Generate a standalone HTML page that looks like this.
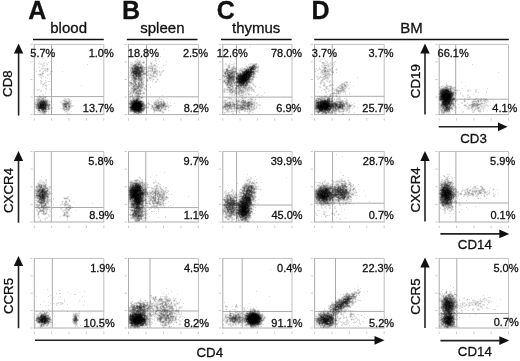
<!DOCTYPE html>
<html><head><meta charset="utf-8"><style>
html,body{margin:0;padding:0;background:#fff;}
svg{display:block;will-change:transform;font-family:"Liberation Sans",sans-serif;}
</style></head><body>
<svg width="520" height="361" viewBox="0 0 520 361">
<rect width="520" height="361" fill="#fff"/>
<g>
<g>
<line x1="33" y1="39.5" x2="103.8" y2="39.5" stroke="#111" stroke-width="1.6"/>
<line x1="126.8" y1="39.5" x2="197.5" y2="39.5" stroke="#111" stroke-width="1.6"/>
<line x1="221" y1="39.5" x2="291.7" y2="39.5" stroke="#111" stroke-width="1.6"/>
<line x1="314.2" y1="39.5" x2="508.8" y2="39.5" stroke="#111" stroke-width="1.6"/>
<line x1="34.3" y1="43.9" x2="34.3" y2="115.1" stroke="#acacac" stroke-width="1"/>
<line x1="33.8" y1="114.6" x2="104.3" y2="114.6" stroke="#acacac" stroke-width="1"/>
<line x1="34.3" y1="44.4" x2="103.8" y2="44.4" stroke="#c0c0c0" stroke-width="1"/>
<line x1="103.8" y1="44.4" x2="103.8" y2="114.6" stroke="#c0c0c0" stroke-width="1"/>
<line x1="51.5" y1="44.4" x2="51.5" y2="114.6" stroke="#aaaaaa" stroke-width="1"/>
<line x1="34.3" y1="96.6" x2="103.8" y2="96.6" stroke="#aaaaaa" stroke-width="1"/>
<line x1="30.299999999999997" y1="44.4" x2="32.8" y2="44.4" stroke="#c0c0c0" stroke-width="0.8"/>
<line x1="34.3" y1="118.1" x2="34.3" y2="120.6" stroke="#c0c0c0" stroke-width="0.8"/>
<line x1="30.299999999999997" y1="61.949999999999996" x2="32.8" y2="61.949999999999996" stroke="#c0c0c0" stroke-width="0.8"/>
<line x1="51.675" y1="118.1" x2="51.675" y2="120.6" stroke="#c0c0c0" stroke-width="0.8"/>
<line x1="30.299999999999997" y1="79.5" x2="32.8" y2="79.5" stroke="#c0c0c0" stroke-width="0.8"/>
<line x1="69.05" y1="118.1" x2="69.05" y2="120.6" stroke="#c0c0c0" stroke-width="0.8"/>
<line x1="30.299999999999997" y1="97.04999999999998" x2="32.8" y2="97.04999999999998" stroke="#c0c0c0" stroke-width="0.8"/>
<line x1="86.425" y1="118.1" x2="86.425" y2="120.6" stroke="#c0c0c0" stroke-width="0.8"/>
<line x1="30.299999999999997" y1="114.6" x2="32.8" y2="114.6" stroke="#c0c0c0" stroke-width="0.8"/>
<line x1="103.8" y1="118.1" x2="103.8" y2="120.6" stroke="#c0c0c0" stroke-width="0.8"/>
<line x1="128.5" y1="43.9" x2="128.5" y2="115.1" stroke="#acacac" stroke-width="1"/>
<line x1="128.0" y1="114.6" x2="198.9" y2="114.6" stroke="#acacac" stroke-width="1"/>
<line x1="128.5" y1="44.4" x2="198.4" y2="44.4" stroke="#c0c0c0" stroke-width="1"/>
<line x1="198.4" y1="44.4" x2="198.4" y2="114.6" stroke="#c0c0c0" stroke-width="1"/>
<line x1="146.5" y1="44.4" x2="146.5" y2="114.6" stroke="#aaaaaa" stroke-width="1"/>
<line x1="128.5" y1="96.8" x2="198.4" y2="96.8" stroke="#aaaaaa" stroke-width="1"/>
<line x1="124.5" y1="44.4" x2="127.0" y2="44.4" stroke="#c0c0c0" stroke-width="0.8"/>
<line x1="128.5" y1="118.1" x2="128.5" y2="120.6" stroke="#c0c0c0" stroke-width="0.8"/>
<line x1="124.5" y1="61.949999999999996" x2="127.0" y2="61.949999999999996" stroke="#c0c0c0" stroke-width="0.8"/>
<line x1="145.975" y1="118.1" x2="145.975" y2="120.6" stroke="#c0c0c0" stroke-width="0.8"/>
<line x1="124.5" y1="79.5" x2="127.0" y2="79.5" stroke="#c0c0c0" stroke-width="0.8"/>
<line x1="163.45" y1="118.1" x2="163.45" y2="120.6" stroke="#c0c0c0" stroke-width="0.8"/>
<line x1="124.5" y1="97.04999999999998" x2="127.0" y2="97.04999999999998" stroke="#c0c0c0" stroke-width="0.8"/>
<line x1="180.925" y1="118.1" x2="180.925" y2="120.6" stroke="#c0c0c0" stroke-width="0.8"/>
<line x1="124.5" y1="114.6" x2="127.0" y2="114.6" stroke="#c0c0c0" stroke-width="0.8"/>
<line x1="198.4" y1="118.1" x2="198.4" y2="120.6" stroke="#c0c0c0" stroke-width="0.8"/>
<line x1="222.8" y1="43.9" x2="222.8" y2="115.1" stroke="#acacac" stroke-width="1"/>
<line x1="222.3" y1="114.6" x2="292.5" y2="114.6" stroke="#acacac" stroke-width="1"/>
<line x1="222.8" y1="44.4" x2="292" y2="44.4" stroke="#c0c0c0" stroke-width="1"/>
<line x1="292" y1="44.4" x2="292" y2="114.6" stroke="#c0c0c0" stroke-width="1"/>
<line x1="236.5" y1="44.4" x2="236.5" y2="114.6" stroke="#aaaaaa" stroke-width="1"/>
<line x1="222.8" y1="97.1" x2="292" y2="97.1" stroke="#aaaaaa" stroke-width="1"/>
<line x1="218.8" y1="44.4" x2="221.3" y2="44.4" stroke="#c0c0c0" stroke-width="0.8"/>
<line x1="222.8" y1="118.1" x2="222.8" y2="120.6" stroke="#c0c0c0" stroke-width="0.8"/>
<line x1="218.8" y1="61.949999999999996" x2="221.3" y2="61.949999999999996" stroke="#c0c0c0" stroke-width="0.8"/>
<line x1="240.10000000000002" y1="118.1" x2="240.10000000000002" y2="120.6" stroke="#c0c0c0" stroke-width="0.8"/>
<line x1="218.8" y1="79.5" x2="221.3" y2="79.5" stroke="#c0c0c0" stroke-width="0.8"/>
<line x1="257.4" y1="118.1" x2="257.4" y2="120.6" stroke="#c0c0c0" stroke-width="0.8"/>
<line x1="218.8" y1="97.04999999999998" x2="221.3" y2="97.04999999999998" stroke="#c0c0c0" stroke-width="0.8"/>
<line x1="274.7" y1="118.1" x2="274.7" y2="120.6" stroke="#c0c0c0" stroke-width="0.8"/>
<line x1="218.8" y1="114.6" x2="221.3" y2="114.6" stroke="#c0c0c0" stroke-width="0.8"/>
<line x1="292.0" y1="118.1" x2="292.0" y2="120.6" stroke="#c0c0c0" stroke-width="0.8"/>
<line x1="314.6" y1="43.9" x2="314.6" y2="115.1" stroke="#acacac" stroke-width="1"/>
<line x1="314.1" y1="114.6" x2="384.7" y2="114.6" stroke="#acacac" stroke-width="1"/>
<line x1="314.6" y1="44.4" x2="384.2" y2="44.4" stroke="#c0c0c0" stroke-width="1"/>
<line x1="384.2" y1="44.4" x2="384.2" y2="114.6" stroke="#c0c0c0" stroke-width="1"/>
<line x1="332.2" y1="44.4" x2="332.2" y2="114.6" stroke="#aaaaaa" stroke-width="1"/>
<line x1="314.6" y1="96.3" x2="384.2" y2="96.3" stroke="#aaaaaa" stroke-width="1"/>
<line x1="310.6" y1="44.4" x2="313.1" y2="44.4" stroke="#c0c0c0" stroke-width="0.8"/>
<line x1="314.6" y1="118.1" x2="314.6" y2="120.6" stroke="#c0c0c0" stroke-width="0.8"/>
<line x1="310.6" y1="61.949999999999996" x2="313.1" y2="61.949999999999996" stroke="#c0c0c0" stroke-width="0.8"/>
<line x1="332.0" y1="118.1" x2="332.0" y2="120.6" stroke="#c0c0c0" stroke-width="0.8"/>
<line x1="310.6" y1="79.5" x2="313.1" y2="79.5" stroke="#c0c0c0" stroke-width="0.8"/>
<line x1="349.4" y1="118.1" x2="349.4" y2="120.6" stroke="#c0c0c0" stroke-width="0.8"/>
<line x1="310.6" y1="97.04999999999998" x2="313.1" y2="97.04999999999998" stroke="#c0c0c0" stroke-width="0.8"/>
<line x1="366.8" y1="118.1" x2="366.8" y2="120.6" stroke="#c0c0c0" stroke-width="0.8"/>
<line x1="310.6" y1="114.6" x2="313.1" y2="114.6" stroke="#c0c0c0" stroke-width="0.8"/>
<line x1="384.2" y1="118.1" x2="384.2" y2="120.6" stroke="#c0c0c0" stroke-width="0.8"/>
<line x1="439.2" y1="43.9" x2="439.2" y2="115.1" stroke="#acacac" stroke-width="1"/>
<line x1="438.7" y1="114.6" x2="509.0" y2="114.6" stroke="#acacac" stroke-width="1"/>
<line x1="439.2" y1="44.4" x2="508.5" y2="44.4" stroke="#c0c0c0" stroke-width="1"/>
<line x1="508.5" y1="44.4" x2="508.5" y2="114.6" stroke="#c0c0c0" stroke-width="1"/>
<line x1="455.7" y1="44.4" x2="455.7" y2="114.6" stroke="#aaaaaa" stroke-width="1"/>
<line x1="439.2" y1="99.2" x2="508.5" y2="99.2" stroke="#aaaaaa" stroke-width="1"/>
<line x1="435.2" y1="44.4" x2="437.7" y2="44.4" stroke="#c0c0c0" stroke-width="0.8"/>
<line x1="439.2" y1="118.1" x2="439.2" y2="120.6" stroke="#c0c0c0" stroke-width="0.8"/>
<line x1="435.2" y1="61.949999999999996" x2="437.7" y2="61.949999999999996" stroke="#c0c0c0" stroke-width="0.8"/>
<line x1="456.525" y1="118.1" x2="456.525" y2="120.6" stroke="#c0c0c0" stroke-width="0.8"/>
<line x1="435.2" y1="79.5" x2="437.7" y2="79.5" stroke="#c0c0c0" stroke-width="0.8"/>
<line x1="473.85" y1="118.1" x2="473.85" y2="120.6" stroke="#c0c0c0" stroke-width="0.8"/>
<line x1="435.2" y1="97.04999999999998" x2="437.7" y2="97.04999999999998" stroke="#c0c0c0" stroke-width="0.8"/>
<line x1="491.175" y1="118.1" x2="491.175" y2="120.6" stroke="#c0c0c0" stroke-width="0.8"/>
<line x1="435.2" y1="114.6" x2="437.7" y2="114.6" stroke="#c0c0c0" stroke-width="0.8"/>
<line x1="508.5" y1="118.1" x2="508.5" y2="120.6" stroke="#c0c0c0" stroke-width="0.8"/>
<line x1="34.3" y1="151.0" x2="34.3" y2="222.5" stroke="#acacac" stroke-width="1"/>
<line x1="33.8" y1="222.0" x2="104.3" y2="222.0" stroke="#acacac" stroke-width="1"/>
<line x1="34.3" y1="151.5" x2="103.8" y2="151.5" stroke="#c0c0c0" stroke-width="1"/>
<line x1="103.8" y1="151.5" x2="103.8" y2="222.0" stroke="#c0c0c0" stroke-width="1"/>
<line x1="51.3" y1="151.5" x2="51.3" y2="222.0" stroke="#aaaaaa" stroke-width="1"/>
<line x1="34.3" y1="207.5" x2="103.8" y2="207.5" stroke="#aaaaaa" stroke-width="1"/>
<line x1="30.299999999999997" y1="151.5" x2="32.8" y2="151.5" stroke="#c0c0c0" stroke-width="0.8"/>
<line x1="34.3" y1="225.5" x2="34.3" y2="228.0" stroke="#c0c0c0" stroke-width="0.8"/>
<line x1="30.299999999999997" y1="169.125" x2="32.8" y2="169.125" stroke="#c0c0c0" stroke-width="0.8"/>
<line x1="51.675" y1="225.5" x2="51.675" y2="228.0" stroke="#c0c0c0" stroke-width="0.8"/>
<line x1="30.299999999999997" y1="186.75" x2="32.8" y2="186.75" stroke="#c0c0c0" stroke-width="0.8"/>
<line x1="69.05" y1="225.5" x2="69.05" y2="228.0" stroke="#c0c0c0" stroke-width="0.8"/>
<line x1="30.299999999999997" y1="204.375" x2="32.8" y2="204.375" stroke="#c0c0c0" stroke-width="0.8"/>
<line x1="86.425" y1="225.5" x2="86.425" y2="228.0" stroke="#c0c0c0" stroke-width="0.8"/>
<line x1="30.299999999999997" y1="222.0" x2="32.8" y2="222.0" stroke="#c0c0c0" stroke-width="0.8"/>
<line x1="103.8" y1="225.5" x2="103.8" y2="228.0" stroke="#c0c0c0" stroke-width="0.8"/>
<line x1="128.5" y1="151.0" x2="128.5" y2="222.5" stroke="#acacac" stroke-width="1"/>
<line x1="128.0" y1="222.0" x2="198.9" y2="222.0" stroke="#acacac" stroke-width="1"/>
<line x1="128.5" y1="151.5" x2="198.4" y2="151.5" stroke="#c0c0c0" stroke-width="1"/>
<line x1="198.4" y1="151.5" x2="198.4" y2="222.0" stroke="#c0c0c0" stroke-width="1"/>
<line x1="145.8" y1="151.5" x2="145.8" y2="222.0" stroke="#aaaaaa" stroke-width="1"/>
<line x1="128.5" y1="207.6" x2="198.4" y2="207.6" stroke="#aaaaaa" stroke-width="1"/>
<line x1="124.5" y1="151.5" x2="127.0" y2="151.5" stroke="#c0c0c0" stroke-width="0.8"/>
<line x1="128.5" y1="225.5" x2="128.5" y2="228.0" stroke="#c0c0c0" stroke-width="0.8"/>
<line x1="124.5" y1="169.125" x2="127.0" y2="169.125" stroke="#c0c0c0" stroke-width="0.8"/>
<line x1="145.975" y1="225.5" x2="145.975" y2="228.0" stroke="#c0c0c0" stroke-width="0.8"/>
<line x1="124.5" y1="186.75" x2="127.0" y2="186.75" stroke="#c0c0c0" stroke-width="0.8"/>
<line x1="163.45" y1="225.5" x2="163.45" y2="228.0" stroke="#c0c0c0" stroke-width="0.8"/>
<line x1="124.5" y1="204.375" x2="127.0" y2="204.375" stroke="#c0c0c0" stroke-width="0.8"/>
<line x1="180.925" y1="225.5" x2="180.925" y2="228.0" stroke="#c0c0c0" stroke-width="0.8"/>
<line x1="124.5" y1="222.0" x2="127.0" y2="222.0" stroke="#c0c0c0" stroke-width="0.8"/>
<line x1="198.4" y1="225.5" x2="198.4" y2="228.0" stroke="#c0c0c0" stroke-width="0.8"/>
<line x1="222.8" y1="151.0" x2="222.8" y2="222.5" stroke="#acacac" stroke-width="1"/>
<line x1="222.3" y1="222.0" x2="292.5" y2="222.0" stroke="#acacac" stroke-width="1"/>
<line x1="222.8" y1="151.5" x2="292" y2="151.5" stroke="#c0c0c0" stroke-width="1"/>
<line x1="292" y1="151.5" x2="292" y2="222.0" stroke="#c0c0c0" stroke-width="1"/>
<line x1="236.6" y1="151.5" x2="236.6" y2="222.0" stroke="#aaaaaa" stroke-width="1"/>
<line x1="222.8" y1="205.0" x2="292" y2="205.0" stroke="#aaaaaa" stroke-width="1"/>
<line x1="218.8" y1="151.5" x2="221.3" y2="151.5" stroke="#c0c0c0" stroke-width="0.8"/>
<line x1="222.8" y1="225.5" x2="222.8" y2="228.0" stroke="#c0c0c0" stroke-width="0.8"/>
<line x1="218.8" y1="169.125" x2="221.3" y2="169.125" stroke="#c0c0c0" stroke-width="0.8"/>
<line x1="240.10000000000002" y1="225.5" x2="240.10000000000002" y2="228.0" stroke="#c0c0c0" stroke-width="0.8"/>
<line x1="218.8" y1="186.75" x2="221.3" y2="186.75" stroke="#c0c0c0" stroke-width="0.8"/>
<line x1="257.4" y1="225.5" x2="257.4" y2="228.0" stroke="#c0c0c0" stroke-width="0.8"/>
<line x1="218.8" y1="204.375" x2="221.3" y2="204.375" stroke="#c0c0c0" stroke-width="0.8"/>
<line x1="274.7" y1="225.5" x2="274.7" y2="228.0" stroke="#c0c0c0" stroke-width="0.8"/>
<line x1="218.8" y1="222.0" x2="221.3" y2="222.0" stroke="#c0c0c0" stroke-width="0.8"/>
<line x1="292.0" y1="225.5" x2="292.0" y2="228.0" stroke="#c0c0c0" stroke-width="0.8"/>
<line x1="314.6" y1="151.0" x2="314.6" y2="222.5" stroke="#acacac" stroke-width="1"/>
<line x1="314.1" y1="222.0" x2="384.7" y2="222.0" stroke="#acacac" stroke-width="1"/>
<line x1="314.6" y1="151.5" x2="384.2" y2="151.5" stroke="#c0c0c0" stroke-width="1"/>
<line x1="384.2" y1="151.5" x2="384.2" y2="222.0" stroke="#c0c0c0" stroke-width="1"/>
<line x1="332.6" y1="151.5" x2="332.6" y2="222.0" stroke="#aaaaaa" stroke-width="1"/>
<line x1="314.6" y1="203.2" x2="384.2" y2="203.2" stroke="#aaaaaa" stroke-width="1"/>
<line x1="310.6" y1="151.5" x2="313.1" y2="151.5" stroke="#c0c0c0" stroke-width="0.8"/>
<line x1="314.6" y1="225.5" x2="314.6" y2="228.0" stroke="#c0c0c0" stroke-width="0.8"/>
<line x1="310.6" y1="169.125" x2="313.1" y2="169.125" stroke="#c0c0c0" stroke-width="0.8"/>
<line x1="332.0" y1="225.5" x2="332.0" y2="228.0" stroke="#c0c0c0" stroke-width="0.8"/>
<line x1="310.6" y1="186.75" x2="313.1" y2="186.75" stroke="#c0c0c0" stroke-width="0.8"/>
<line x1="349.4" y1="225.5" x2="349.4" y2="228.0" stroke="#c0c0c0" stroke-width="0.8"/>
<line x1="310.6" y1="204.375" x2="313.1" y2="204.375" stroke="#c0c0c0" stroke-width="0.8"/>
<line x1="366.8" y1="225.5" x2="366.8" y2="228.0" stroke="#c0c0c0" stroke-width="0.8"/>
<line x1="310.6" y1="222.0" x2="313.1" y2="222.0" stroke="#c0c0c0" stroke-width="0.8"/>
<line x1="384.2" y1="225.5" x2="384.2" y2="228.0" stroke="#c0c0c0" stroke-width="0.8"/>
<line x1="439.2" y1="151.0" x2="439.2" y2="222.5" stroke="#acacac" stroke-width="1"/>
<line x1="438.7" y1="222.0" x2="509.0" y2="222.0" stroke="#acacac" stroke-width="1"/>
<line x1="439.2" y1="151.5" x2="508.5" y2="151.5" stroke="#c0c0c0" stroke-width="1"/>
<line x1="508.5" y1="151.5" x2="508.5" y2="222.0" stroke="#c0c0c0" stroke-width="1"/>
<line x1="455.9" y1="151.5" x2="455.9" y2="222.0" stroke="#aaaaaa" stroke-width="1"/>
<line x1="439.2" y1="203.0" x2="508.5" y2="203.0" stroke="#aaaaaa" stroke-width="1"/>
<line x1="435.2" y1="151.5" x2="437.7" y2="151.5" stroke="#c0c0c0" stroke-width="0.8"/>
<line x1="439.2" y1="225.5" x2="439.2" y2="228.0" stroke="#c0c0c0" stroke-width="0.8"/>
<line x1="435.2" y1="169.125" x2="437.7" y2="169.125" stroke="#c0c0c0" stroke-width="0.8"/>
<line x1="456.525" y1="225.5" x2="456.525" y2="228.0" stroke="#c0c0c0" stroke-width="0.8"/>
<line x1="435.2" y1="186.75" x2="437.7" y2="186.75" stroke="#c0c0c0" stroke-width="0.8"/>
<line x1="473.85" y1="225.5" x2="473.85" y2="228.0" stroke="#c0c0c0" stroke-width="0.8"/>
<line x1="435.2" y1="204.375" x2="437.7" y2="204.375" stroke="#c0c0c0" stroke-width="0.8"/>
<line x1="491.175" y1="225.5" x2="491.175" y2="228.0" stroke="#c0c0c0" stroke-width="0.8"/>
<line x1="435.2" y1="222.0" x2="437.7" y2="222.0" stroke="#c0c0c0" stroke-width="0.8"/>
<line x1="508.5" y1="225.5" x2="508.5" y2="228.0" stroke="#c0c0c0" stroke-width="0.8"/>
<line x1="34.3" y1="257.9" x2="34.3" y2="328.5" stroke="#acacac" stroke-width="1"/>
<line x1="33.8" y1="328.0" x2="104.3" y2="328.0" stroke="#acacac" stroke-width="1"/>
<line x1="34.3" y1="258.4" x2="103.8" y2="258.4" stroke="#c0c0c0" stroke-width="1"/>
<line x1="103.8" y1="258.4" x2="103.8" y2="328.0" stroke="#c0c0c0" stroke-width="1"/>
<line x1="52.3" y1="258.4" x2="52.3" y2="328.0" stroke="#aaaaaa" stroke-width="1"/>
<line x1="34.3" y1="311.1" x2="103.8" y2="311.1" stroke="#aaaaaa" stroke-width="1"/>
<line x1="30.299999999999997" y1="258.4" x2="32.8" y2="258.4" stroke="#c0c0c0" stroke-width="0.8"/>
<line x1="34.3" y1="331.5" x2="34.3" y2="334.0" stroke="#c0c0c0" stroke-width="0.8"/>
<line x1="30.299999999999997" y1="275.79999999999995" x2="32.8" y2="275.79999999999995" stroke="#c0c0c0" stroke-width="0.8"/>
<line x1="51.675" y1="331.5" x2="51.675" y2="334.0" stroke="#c0c0c0" stroke-width="0.8"/>
<line x1="30.299999999999997" y1="293.2" x2="32.8" y2="293.2" stroke="#c0c0c0" stroke-width="0.8"/>
<line x1="69.05" y1="331.5" x2="69.05" y2="334.0" stroke="#c0c0c0" stroke-width="0.8"/>
<line x1="30.299999999999997" y1="310.6" x2="32.8" y2="310.6" stroke="#c0c0c0" stroke-width="0.8"/>
<line x1="86.425" y1="331.5" x2="86.425" y2="334.0" stroke="#c0c0c0" stroke-width="0.8"/>
<line x1="30.299999999999997" y1="328.0" x2="32.8" y2="328.0" stroke="#c0c0c0" stroke-width="0.8"/>
<line x1="103.8" y1="331.5" x2="103.8" y2="334.0" stroke="#c0c0c0" stroke-width="0.8"/>
<line x1="128.5" y1="257.9" x2="128.5" y2="328.5" stroke="#acacac" stroke-width="1"/>
<line x1="128.0" y1="328.0" x2="198.9" y2="328.0" stroke="#acacac" stroke-width="1"/>
<line x1="128.5" y1="258.4" x2="198.4" y2="258.4" stroke="#c0c0c0" stroke-width="1"/>
<line x1="198.4" y1="258.4" x2="198.4" y2="328.0" stroke="#c0c0c0" stroke-width="1"/>
<line x1="150.0" y1="258.4" x2="150.0" y2="328.0" stroke="#aaaaaa" stroke-width="1"/>
<line x1="128.5" y1="311.0" x2="198.4" y2="311.0" stroke="#aaaaaa" stroke-width="1"/>
<line x1="124.5" y1="258.4" x2="127.0" y2="258.4" stroke="#c0c0c0" stroke-width="0.8"/>
<line x1="128.5" y1="331.5" x2="128.5" y2="334.0" stroke="#c0c0c0" stroke-width="0.8"/>
<line x1="124.5" y1="275.79999999999995" x2="127.0" y2="275.79999999999995" stroke="#c0c0c0" stroke-width="0.8"/>
<line x1="145.975" y1="331.5" x2="145.975" y2="334.0" stroke="#c0c0c0" stroke-width="0.8"/>
<line x1="124.5" y1="293.2" x2="127.0" y2="293.2" stroke="#c0c0c0" stroke-width="0.8"/>
<line x1="163.45" y1="331.5" x2="163.45" y2="334.0" stroke="#c0c0c0" stroke-width="0.8"/>
<line x1="124.5" y1="310.6" x2="127.0" y2="310.6" stroke="#c0c0c0" stroke-width="0.8"/>
<line x1="180.925" y1="331.5" x2="180.925" y2="334.0" stroke="#c0c0c0" stroke-width="0.8"/>
<line x1="124.5" y1="328.0" x2="127.0" y2="328.0" stroke="#c0c0c0" stroke-width="0.8"/>
<line x1="198.4" y1="331.5" x2="198.4" y2="334.0" stroke="#c0c0c0" stroke-width="0.8"/>
<line x1="222.8" y1="257.9" x2="222.8" y2="328.5" stroke="#acacac" stroke-width="1"/>
<line x1="222.3" y1="328.0" x2="292.5" y2="328.0" stroke="#acacac" stroke-width="1"/>
<line x1="222.8" y1="258.4" x2="292" y2="258.4" stroke="#c0c0c0" stroke-width="1"/>
<line x1="292" y1="258.4" x2="292" y2="328.0" stroke="#c0c0c0" stroke-width="1"/>
<line x1="242.2" y1="258.4" x2="242.2" y2="328.0" stroke="#aaaaaa" stroke-width="1"/>
<line x1="222.8" y1="311.5" x2="292" y2="311.5" stroke="#aaaaaa" stroke-width="1"/>
<line x1="218.8" y1="258.4" x2="221.3" y2="258.4" stroke="#c0c0c0" stroke-width="0.8"/>
<line x1="222.8" y1="331.5" x2="222.8" y2="334.0" stroke="#c0c0c0" stroke-width="0.8"/>
<line x1="218.8" y1="275.79999999999995" x2="221.3" y2="275.79999999999995" stroke="#c0c0c0" stroke-width="0.8"/>
<line x1="240.10000000000002" y1="331.5" x2="240.10000000000002" y2="334.0" stroke="#c0c0c0" stroke-width="0.8"/>
<line x1="218.8" y1="293.2" x2="221.3" y2="293.2" stroke="#c0c0c0" stroke-width="0.8"/>
<line x1="257.4" y1="331.5" x2="257.4" y2="334.0" stroke="#c0c0c0" stroke-width="0.8"/>
<line x1="218.8" y1="310.6" x2="221.3" y2="310.6" stroke="#c0c0c0" stroke-width="0.8"/>
<line x1="274.7" y1="331.5" x2="274.7" y2="334.0" stroke="#c0c0c0" stroke-width="0.8"/>
<line x1="218.8" y1="328.0" x2="221.3" y2="328.0" stroke="#c0c0c0" stroke-width="0.8"/>
<line x1="292.0" y1="331.5" x2="292.0" y2="334.0" stroke="#c0c0c0" stroke-width="0.8"/>
<line x1="314.6" y1="257.9" x2="314.6" y2="328.5" stroke="#acacac" stroke-width="1"/>
<line x1="314.1" y1="328.0" x2="384.7" y2="328.0" stroke="#acacac" stroke-width="1"/>
<line x1="314.6" y1="258.4" x2="384.2" y2="258.4" stroke="#c0c0c0" stroke-width="1"/>
<line x1="384.2" y1="258.4" x2="384.2" y2="328.0" stroke="#c0c0c0" stroke-width="1"/>
<line x1="335.5" y1="258.4" x2="335.5" y2="328.0" stroke="#aaaaaa" stroke-width="1"/>
<line x1="314.6" y1="311.4" x2="384.2" y2="311.4" stroke="#aaaaaa" stroke-width="1"/>
<line x1="310.6" y1="258.4" x2="313.1" y2="258.4" stroke="#c0c0c0" stroke-width="0.8"/>
<line x1="314.6" y1="331.5" x2="314.6" y2="334.0" stroke="#c0c0c0" stroke-width="0.8"/>
<line x1="310.6" y1="275.79999999999995" x2="313.1" y2="275.79999999999995" stroke="#c0c0c0" stroke-width="0.8"/>
<line x1="332.0" y1="331.5" x2="332.0" y2="334.0" stroke="#c0c0c0" stroke-width="0.8"/>
<line x1="310.6" y1="293.2" x2="313.1" y2="293.2" stroke="#c0c0c0" stroke-width="0.8"/>
<line x1="349.4" y1="331.5" x2="349.4" y2="334.0" stroke="#c0c0c0" stroke-width="0.8"/>
<line x1="310.6" y1="310.6" x2="313.1" y2="310.6" stroke="#c0c0c0" stroke-width="0.8"/>
<line x1="366.8" y1="331.5" x2="366.8" y2="334.0" stroke="#c0c0c0" stroke-width="0.8"/>
<line x1="310.6" y1="328.0" x2="313.1" y2="328.0" stroke="#c0c0c0" stroke-width="0.8"/>
<line x1="384.2" y1="331.5" x2="384.2" y2="334.0" stroke="#c0c0c0" stroke-width="0.8"/>
<line x1="439.2" y1="257.9" x2="439.2" y2="328.5" stroke="#acacac" stroke-width="1"/>
<line x1="438.7" y1="328.0" x2="509.0" y2="328.0" stroke="#acacac" stroke-width="1"/>
<line x1="439.2" y1="258.4" x2="508.5" y2="258.4" stroke="#c0c0c0" stroke-width="1"/>
<line x1="508.5" y1="258.4" x2="508.5" y2="328.0" stroke="#c0c0c0" stroke-width="1"/>
<line x1="456.8" y1="258.4" x2="456.8" y2="328.0" stroke="#aaaaaa" stroke-width="1"/>
<line x1="439.2" y1="313.5" x2="508.5" y2="313.5" stroke="#aaaaaa" stroke-width="1"/>
<line x1="435.2" y1="258.4" x2="437.7" y2="258.4" stroke="#c0c0c0" stroke-width="0.8"/>
<line x1="439.2" y1="331.5" x2="439.2" y2="334.0" stroke="#c0c0c0" stroke-width="0.8"/>
<line x1="435.2" y1="275.79999999999995" x2="437.7" y2="275.79999999999995" stroke="#c0c0c0" stroke-width="0.8"/>
<line x1="456.525" y1="331.5" x2="456.525" y2="334.0" stroke="#c0c0c0" stroke-width="0.8"/>
<line x1="435.2" y1="293.2" x2="437.7" y2="293.2" stroke="#c0c0c0" stroke-width="0.8"/>
<line x1="473.85" y1="331.5" x2="473.85" y2="334.0" stroke="#c0c0c0" stroke-width="0.8"/>
<line x1="435.2" y1="310.6" x2="437.7" y2="310.6" stroke="#c0c0c0" stroke-width="0.8"/>
<line x1="491.175" y1="331.5" x2="491.175" y2="334.0" stroke="#c0c0c0" stroke-width="0.8"/>
<line x1="435.2" y1="328.0" x2="437.7" y2="328.0" stroke="#c0c0c0" stroke-width="0.8"/>
<line x1="508.5" y1="331.5" x2="508.5" y2="334.0" stroke="#c0c0c0" stroke-width="0.8"/>
</g>
<g>
<defs><marker id="k1" markerWidth="1" markerHeight="1" refX="0" refY="0" markerUnits="userSpaceOnUse" overflow="visible"><rect width="1" height="1" fill-opacity="0.071"/></marker><marker id="k2" markerWidth="1" markerHeight="1" refX="0" refY="0" markerUnits="userSpaceOnUse" overflow="visible"><rect width="1" height="1" fill-opacity="0.143"/></marker><marker id="k3" markerWidth="1" markerHeight="1" refX="0" refY="0" markerUnits="userSpaceOnUse" overflow="visible"><rect width="1" height="1" fill-opacity="0.214"/></marker><marker id="k4" markerWidth="1" markerHeight="1" refX="0" refY="0" markerUnits="userSpaceOnUse" overflow="visible"><rect width="1" height="1" fill-opacity="0.286"/></marker><marker id="k5" markerWidth="1" markerHeight="1" refX="0" refY="0" markerUnits="userSpaceOnUse" overflow="visible"><rect width="1" height="1" fill-opacity="0.357"/></marker><marker id="k6" markerWidth="1" markerHeight="1" refX="0" refY="0" markerUnits="userSpaceOnUse" overflow="visible"><rect width="1" height="1" fill-opacity="0.429"/></marker><marker id="k7" markerWidth="1" markerHeight="1" refX="0" refY="0" markerUnits="userSpaceOnUse" overflow="visible"><rect width="1" height="1" fill-opacity="0.500"/></marker><marker id="k8" markerWidth="1" markerHeight="1" refX="0" refY="0" markerUnits="userSpaceOnUse" overflow="visible"><rect width="1" height="1" fill-opacity="0.571"/></marker><marker id="k9" markerWidth="1" markerHeight="1" refX="0" refY="0" markerUnits="userSpaceOnUse" overflow="visible"><rect width="1" height="1" fill-opacity="0.643"/></marker><marker id="k10" markerWidth="1" markerHeight="1" refX="0" refY="0" markerUnits="userSpaceOnUse" overflow="visible"><rect width="1" height="1" fill-opacity="0.714"/></marker><marker id="k11" markerWidth="1" markerHeight="1" refX="0" refY="0" markerUnits="userSpaceOnUse" overflow="visible"><rect width="1" height="1" fill-opacity="0.786"/></marker><marker id="k12" markerWidth="1" markerHeight="1" refX="0" refY="0" markerUnits="userSpaceOnUse" overflow="visible"><rect width="1" height="1" fill-opacity="0.857"/></marker><marker id="k13" markerWidth="1" markerHeight="1" refX="0" refY="0" markerUnits="userSpaceOnUse" overflow="visible"><rect width="1" height="1" fill-opacity="0.929"/></marker><marker id="k14" markerWidth="1" markerHeight="1" refX="0" refY="0" markerUnits="userSpaceOnUse" overflow="visible"><rect width="1" height="1" fill-opacity="1.000"/></marker></defs><g fill="none" stroke="none"><polyline points="136,59 155,59 321,59 136,60 138,60 139,60 156,60 319,60 320,60 326,60 134,61 141,61 142,61 144,61 155,61 325,61 327,61 334,61 39,62 43,62 132,62 134,62 141,62 150,62 152,62 156,62 321,62 324,62 326,62 335,62 39,63 41,63 44,63 47,63 130,63 131,63 134,63 141,63 142,63 144,63 152,63 226,63 233,63 249,63 251,63 253,63 257,63 325,63 327,63 328,63 329,63 331,63 333,63 334,63 40,64 42,64 43,64 44,64 46,64 142,64 150,64 152,64 153,64 155,64 225,64 228,64 229,64 230,64 232,64 234,64 249,64 251,64 257,64 322,64 325,64 326,64 329,64 330,64 331,64 333,64 42,65 130,65 143,65 148,65 150,65 156,65 227,65 230,65 233,65 234,65 246,65 248,65 249,65 257,65 322,65 323,65 329,65 333,65 43,66 129,66 144,66 145,66 146,66 147,66 156,66 227,66 230,66 232,66 235,66 245,66 259,66 321,66 323,66 326,66 330,66 41,67 42,67 43,67 47,67 147,67 153,67 154,67 155,67 157,67 227,67 231,67 236,67 241,67 243,67 244,67 245,67 327,67 328,67 329,67 332,67 333,67 44,68 46,68 48,68 129,68 146,68 147,68 156,68 225,68 230,68 239,68 241,68 258,68 318,68 320,68 322,68 327,68 328,68 330,68 331,68 333,68 336,68 40,69 41,69 42,69 43,69 44,69 129,69 147,69 148,69 149,69 150,69 157,69 223,69 236,69 237,69 239,69 256,69 257,69 258,69 318,69 321,69 322,69 331,69 332,69 335,69 337,69 43,70 48,70 129,70 145,70 146,70 147,70 158,70 159,70 162,70 224,70 238,70 320,70 331,70 333,70 336,70 40,71 42,71 44,71 46,71 51,71 129,71 158,71 160,71 161,71 163,71 238,71 258,71 320,71 330,71 41,72 43,72 50,72 148,72 150,72 151,72 152,72 157,72 158,72 160,72 162,72 223,72 256,72 257,72 331,72 39,73 40,73 41,73 147,73 149,73 150,73 159,73 160,73 161,73 223,73 320,73 330,73 332,73 333,73 43,74 48,74 49,74 129,74 154,74 155,74 159,74 161,74 223,74 321,74 331,74 38,75 39,75 41,75 43,75 47,75 144,75 145,75 149,75 154,75 155,75 156,75 159,75 161,75 222,75 255,75 320,75 322,75 323,75 330,75 40,76 41,76 42,76 129,76 130,76 144,76 147,76 148,76 149,76 150,76 156,76 255,76 318,76 319,76 321,76 322,76 40,77 42,77 130,77 145,77 148,77 153,77 154,77 223,77 255,77 316,77 318,77 329,77 130,78 144,78 148,78 152,78 153,78 156,78 157,78 224,78 317,78 320,78 321,78 322,78 146,79 148,79 149,79 150,79 151,79 152,79 154,79 156,79 158,79 318,79 321,79 325,79 326,79 328,79 41,80 130,80 146,80 148,80 152,80 153,80 156,80 157,80 253,80 320,80 323,80 327,80 329,80 40,81 42,81 45,81 46,81 132,81 144,81 146,81 148,81 320,81 323,81 326,81 328,81 330,81 344,81 346,81 347,81 41,82 44,82 128,82 156,82 252,82 253,82 322,82 323,82 328,82 330,82 343,82 40,83 42,83 43,83 45,83 144,83 224,83 251,83 319,83 321,83 323,83 325,83 341,83 345,83 347,83 446,83 42,84 44,84 45,84 46,84 129,84 144,84 249,84 250,84 252,84 254,84 323,84 325,84 329,84 331,84 333,84 340,84 348,84 445,84 447,84 42,85 43,85 44,85 144,85 146,85 225,85 250,85 255,85 325,85 328,85 331,85 332,85 347,85 441,85 445,85 448,85 449,85 450,85 451,85 45,86 46,86 130,86 131,86 145,86 226,86 234,86 251,86 254,86 256,86 320,86 324,86 325,86 328,86 329,86 330,86 337,86 338,86 339,86 347,86 440,86 442,86 443,86 452,86 454,86 130,87 144,87 226,87 234,87 252,87 255,87 319,87 327,87 336,87 347,87 440,87 441,87 46,88 130,88 143,88 145,88 226,88 324,88 325,88 328,88 334,88 335,88 337,88 338,88 346,88 439,88 455,88 38,89 45,89 142,89 143,89 146,89 223,89 225,89 250,89 323,89 325,89 326,89 327,89 329,89 332,89 334,89 338,89 339,89 345,89 439,89 455,89 456,89 457,89 467,89 475,89 38,90 40,90 129,90 130,90 145,90 223,90 225,90 226,90 236,90 250,90 324,90 328,90 333,90 345,90 458,90 468,90 469,90 476,90 128,91 142,91 143,91 223,91 225,91 226,91 227,91 228,91 246,91 249,91 251,91 252,91 254,91 325,91 326,91 329,91 333,91 334,91 335,91 345,91 455,91 456,91 457,91 475,91 129,92 141,92 142,92 223,92 225,92 228,92 246,92 248,92 332,92 335,92 341,92 342,92 344,92 456,92 476,92 229,93 230,93 244,93 245,93 246,93 247,93 249,93 326,93 330,93 345,93 349,93 438,93 460,93 43,94 128,94 131,94 133,94 142,94 143,94 144,94 230,94 232,94 233,94 236,94 240,94 241,94 244,94 247,94 250,94 257,94 329,94 331,94 332,94 334,94 335,94 337,94 338,94 340,94 438,94 455,94 456,94 467,94 40,95 42,95 129,95 133,95 140,95 141,95 231,95 233,95 235,95 237,95 238,95 244,95 245,95 246,95 248,95 249,95 258,95 324,95 325,95 326,95 329,95 331,95 332,95 335,95 337,95 463,95 468,95 38,96 42,96 43,96 44,96 46,96 129,96 133,96 134,96 141,96 142,96 240,96 241,96 242,96 243,96 320,96 322,96 323,96 327,96 328,96 331,96 333,96 337,96 339,96 438,96 455,96 462,96 467,96 469,96 46,97 131,97 143,97 228,97 229,97 230,97 243,97 244,97 250,97 252,97 316,97 333,97 336,97 337,97 438,97 455,97 468,97 470,97 36,98 65,98 66,98 69,98 129,98 131,98 142,98 158,98 160,98 161,98 227,98 235,98 241,98 245,98 249,98 253,98 255,98 315,98 333,98 334,98 336,98 345,98 438,98 455,98 468,98 469,98 474,98 477,98 480,98 483,98 485,98 486,98 48,99 63,99 66,99 67,99 70,99 141,99 156,99 158,99 159,99 160,99 162,99 224,99 225,99 226,99 228,99 229,99 230,99 232,99 233,99 234,99 236,99 237,99 238,99 239,99 241,99 244,99 245,99 247,99 249,99 253,99 254,99 256,99 333,99 335,99 341,99 345,99 346,99 347,99 438,99 464,99 465,99 473,99 476,99 477,99 478,99 479,99 481,99 482,99 487,99 35,100 49,100 67,100 70,100 143,100 154,100 159,100 160,100 161,100 162,100 164,100 223,100 227,100 230,100 231,100 234,100 235,100 240,100 246,100 253,100 254,100 255,100 314,100 334,100 335,100 337,100 343,100 344,100 463,100 472,100 475,100 476,100 488,100 50,101 61,101 62,101 63,101 71,101 144,101 148,101 164,101 223,101 226,101 227,101 228,101 231,101 234,101 253,101 255,101 314,101 344,101 347,101 439,101 456,101 463,101 465,101 471,101 481,101 482,101 486,101 487,101 34,102 50,102 62,102 71,102 128,102 144,102 147,102 149,102 153,102 165,102 167,102 235,102 255,102 257,102 314,102 348,102 440,102 454,102 455,102 462,102 464,102 471,102 479,102 480,102 482,102 483,102 484,102 485,102 487,102 34,103 61,103 128,103 146,103 149,103 166,103 223,103 239,103 255,103 314,103 348,103 350,103 461,103 471,103 483,103 485,103 486,103 34,104 61,104 71,104 128,104 147,104 150,104 152,104 153,104 166,104 167,104 168,104 255,104 256,104 257,104 258,104 260,104 314,104 351,104 439,104 464,104 466,104 468,104 482,104 483,104 484,104 485,104 487,104 72,105 148,105 149,105 169,105 223,105 255,105 256,105 258,105 314,105 352,105 353,105 354,105 439,105 455,105 463,105 466,105 468,105 481,105 482,105 484,105 486,105 488,105 34,106 50,106 62,106 128,106 147,106 169,106 222,106 255,106 257,106 314,106 351,106 355,106 455,106 464,106 465,106 468,106 469,106 470,106 480,106 485,106 487,106 50,107 52,107 62,107 71,107 128,107 166,107 167,107 169,107 222,107 255,107 257,107 314,107 350,107 353,107 354,107 439,107 453,107 456,107 467,107 469,107 470,107 474,107 480,107 482,107 484,107 35,108 50,108 61,108 70,108 146,108 147,108 150,108 166,108 168,108 222,108 256,108 314,108 350,108 439,108 453,108 455,108 467,108 470,108 473,108 474,108 480,108 481,108 482,108 484,108 36,109 50,109 62,109 145,109 151,109 152,109 162,109 223,109 229,109 233,109 235,109 254,109 255,109 314,109 349,109 453,109 469,109 471,109 473,109 476,109 479,109 481,109 47,110 48,110 49,110 63,110 69,110 162,110 163,110 164,110 165,110 166,110 225,110 229,110 231,110 232,110 233,110 236,110 238,110 243,110 246,110 248,110 253,110 340,110 341,110 345,110 348,110 450,110 451,110 452,110 453,110 471,110 473,110 477,110 483,110 37,111 47,111 64,111 67,111 68,111 144,111 153,111 155,111 156,111 163,111 225,111 230,111 234,111 236,111 237,111 246,111 248,111 251,111 252,111 337,111 344,111 346,111 347,111 348,111 350,111 440,111 450,111 462,111 472,111 474,111 481,111 38,112 46,112 48,112 65,112 66,112 67,112 129,112 131,112 132,112 142,112 143,112 154,112 161,112 164,112 226,112 227,112 229,112 231,112 232,112 233,112 238,112 240,112 247,112 248,112 250,112 336,112 338,112 340,112 342,112 343,112 440,112 449,112 450,112 463,112 479,112 480,112 39,113 41,113 68,113 132,113 142,113 162,113 163,113 225,113 239,113 249,113 317,113 319,113 320,113 333,113 342,113 445,113 447,113 449,113 43,114 44,114 133,114 135,114 136,114 137,114 138,114 139,114 321,114 322,114 323,114 325,114 326,114 330,114 335,114 343,114 441,114 443,114 448,174 444,175 448,175 443,176 445,176 447,176 140,177 251,177 444,177 445,177 448,177 452,177 139,178 248,178 250,178 341,178 448,178 451,178 45,179 134,179 135,179 138,179 140,179 141,179 246,179 247,179 251,179 340,179 342,179 348,179 441,179 444,179 448,179 452,179 39,180 130,180 132,180 133,180 141,180 142,180 250,180 324,180 333,180 336,180 338,180 339,180 343,180 345,180 347,180 349,180 442,180 443,180 449,180 451,180 40,181 41,181 42,181 44,181 45,181 46,181 143,181 154,181 155,181 246,181 248,181 251,181 253,181 254,181 256,181 323,181 325,181 332,181 334,181 348,181 349,181 440,181 452,181 38,182 39,182 41,182 45,182 144,182 145,182 155,182 157,182 158,182 245,182 246,182 247,182 255,182 257,182 316,182 318,182 320,182 321,182 323,182 325,182 326,182 328,182 334,182 343,182 346,182 453,182 37,183 40,183 41,183 42,183 45,183 46,183 129,183 146,183 147,183 154,183 157,183 159,183 244,183 255,183 256,183 319,183 321,183 323,183 324,183 325,183 329,183 331,183 332,183 333,183 335,183 339,183 347,183 348,183 351,183 454,183 37,184 129,184 146,184 148,184 156,184 157,184 158,184 159,184 243,184 317,184 318,184 319,184 320,184 321,184 329,184 334,184 339,184 340,184 347,184 351,184 352,184 453,184 36,185 154,185 158,185 159,185 160,185 242,185 256,185 316,185 333,185 347,185 352,185 439,185 453,185 454,185 474,185 480,185 481,185 35,186 48,186 128,186 146,186 148,186 158,186 257,186 316,186 317,186 348,186 349,186 353,186 476,186 479,186 482,186 48,187 128,187 150,187 152,187 153,187 154,187 158,187 159,187 161,187 241,187 257,187 317,187 348,187 352,187 353,187 354,187 439,187 455,187 472,187 473,187 476,187 477,187 480,187 35,188 49,188 50,188 147,188 148,188 150,188 159,188 162,188 165,188 166,188 240,188 241,188 258,188 260,188 315,188 316,188 351,188 352,188 355,188 439,188 456,188 466,188 484,188 493,188 34,189 128,189 147,189 151,189 152,189 159,189 163,189 165,189 231,189 233,189 239,189 257,189 259,189 261,189 355,189 439,189 462,189 464,189 468,189 469,189 471,189 472,189 473,189 474,189 476,189 477,189 478,189 479,189 485,189 492,189 494,189 34,190 49,190 147,190 150,190 151,190 164,190 166,190 167,190 225,190 231,190 233,190 239,190 240,190 255,190 256,190 260,190 314,190 351,190 354,190 457,190 461,190 463,190 465,190 466,190 468,190 471,190 485,190 493,190 34,191 50,191 148,191 149,191 166,191 167,191 224,191 226,191 230,191 233,191 240,191 256,191 314,191 351,191 352,191 354,191 355,191 356,191 462,191 464,191 466,191 470,191 471,191 486,191 488,191 489,191 34,192 50,192 167,192 225,192 226,192 227,192 230,192 231,192 232,192 234,192 235,192 256,192 314,192 352,192 353,192 357,192 460,192 461,192 464,192 470,192 471,192 482,192 483,192 487,192 488,192 51,193 128,193 165,193 166,193 224,193 227,193 229,193 232,193 234,193 236,193 238,193 256,193 314,193 354,193 356,193 438,193 457,193 464,193 474,193 476,193 483,193 486,193 487,193 34,194 50,194 165,194 225,194 234,194 237,194 255,194 314,194 354,194 355,194 457,194 458,194 463,194 474,194 475,194 476,194 479,194 480,194 481,194 483,194 485,194 488,194 493,194 494,194 34,195 49,195 152,195 165,195 166,195 237,195 238,195 314,195 354,195 356,195 439,195 457,195 459,195 460,195 463,195 465,195 466,195 471,195 474,195 475,195 478,195 483,195 485,195 486,195 487,195 494,195 34,196 49,196 67,196 128,196 167,196 224,196 238,196 256,196 314,196 458,196 464,196 468,196 473,196 476,196 483,196 485,196 34,197 49,197 63,197 65,197 66,197 68,197 128,197 146,197 168,197 223,197 238,197 256,197 314,197 455,197 457,197 477,197 478,197 484,197 49,198 63,198 68,198 128,198 146,198 147,198 168,198 223,198 237,198 255,198 350,198 351,198 456,198 477,198 479,198 35,199 36,199 50,199 64,199 65,199 66,199 67,199 69,199 128,199 148,199 167,199 222,199 255,199 455,199 478,199 50,200 62,200 66,200 68,200 70,200 128,200 147,200 148,200 165,200 256,200 314,200 348,200 349,200 350,200 439,200 453,200 456,200 35,201 36,201 49,201 50,201 61,201 63,201 64,201 67,201 68,201 70,201 128,201 151,201 164,201 340,201 341,201 342,201 344,201 345,201 346,201 351,201 439,201 36,202 62,202 64,202 67,202 144,202 148,202 150,202 151,202 254,202 315,202 336,202 340,202 342,202 343,202 344,202 347,202 348,202 349,202 350,202 439,202 457,202 36,203 37,203 38,203 61,203 63,203 67,203 128,203 144,203 151,203 164,203 223,203 253,203 254,203 255,203 317,203 318,203 335,203 338,203 341,203 342,203 344,203 348,203 350,203 452,203 455,203 459,203 47,204 60,204 63,204 69,204 70,204 129,204 144,204 145,204 146,204 147,204 151,204 152,204 155,204 222,204 255,204 316,204 318,204 331,204 333,204 334,204 338,204 340,204 342,204 344,204 346,204 349,204 440,204 452,204 460,204 47,205 48,205 49,205 61,205 63,205 129,205 146,205 150,205 151,205 152,205 158,205 162,205 164,205 222,205 254,205 318,205 320,205 324,205 325,205 327,205 343,205 459,205 35,206 40,206 64,206 65,206 66,206 67,206 71,206 146,206 148,206 150,206 160,206 162,206 163,206 164,206 223,206 254,206 320,206 322,206 324,206 326,206 329,206 330,206 334,206 441,206 453,206 37,207 39,207 49,207 61,207 71,207 130,207 144,207 150,207 151,207 152,207 153,207 154,207 155,207 156,207 158,207 223,207 252,207 254,207 322,207 325,207 329,207 335,207 443,207 453,207 36,208 37,208 48,208 62,208 71,208 130,208 145,208 149,208 150,208 157,208 253,208 321,208 441,208 443,208 37,209 38,209 48,209 60,209 62,209 64,209 70,209 145,209 222,209 335,209 446,209 448,209 449,209 450,209 453,209 36,210 38,210 45,210 47,210 62,210 129,210 146,210 158,210 222,210 252,210 253,210 318,210 443,210 447,210 448,210 450,210 452,210 37,211 45,211 47,211 63,211 64,211 65,211 68,211 130,211 147,211 153,211 222,211 324,211 335,211 337,211 444,211 449,211 451,211 37,212 40,212 41,212 42,212 47,212 63,212 68,212 131,212 145,212 146,212 222,212 323,212 325,212 331,212 335,212 444,212 37,213 39,213 47,213 63,213 68,213 129,213 130,213 131,213 147,213 222,213 224,213 253,213 323,213 325,213 332,213 333,213 338,213 445,213 39,214 42,214 46,214 47,214 67,214 69,214 128,214 146,214 224,214 316,214 325,214 331,214 333,214 334,214 337,214 339,214 37,215 38,215 44,215 49,215 62,215 129,215 146,215 224,215 225,215 251,215 324,215 325,215 328,215 338,215 39,216 48,216 63,216 64,216 65,216 130,216 144,216 145,216 232,216 233,216 234,216 235,216 251,216 326,216 38,217 45,217 47,217 66,217 68,217 143,217 146,217 224,217 233,217 235,217 251,217 39,218 46,218 67,218 130,218 146,218 225,218 230,218 233,218 235,218 250,218 340,218 40,219 44,219 45,219 132,219 133,219 143,219 144,219 145,219 226,219 231,219 234,219 237,219 250,219 339,219 39,220 41,220 141,220 227,220 228,220 229,220 231,220 232,220 233,220 237,220 249,220 40,221 134,221 139,221 143,221 238,221 239,221 241,221 242,221 243,221 249,221 136,222 247,222 248,222 357,289 359,289 359,290 446,290 355,291 356,291 357,291 358,291 445,291 447,291 450,291 346,292 347,292 351,292 352,292 353,292 360,292 447,292 449,292 451,292 345,293 349,293 350,293 440,293 444,293 447,293 448,293 454,293 455,293 344,294 357,294 358,294 359,294 439,294 441,294 442,294 443,294 445,294 446,294 453,294 456,294 165,295 166,295 343,295 357,295 440,295 454,295 455,295 150,296 151,296 153,296 154,296 156,296 161,296 163,296 342,296 454,296 455,296 156,297 160,297 161,297 164,297 167,297 341,297 356,297 440,297 441,297 442,297 463,297 484,297 489,297 151,298 156,298 162,298 163,298 167,298 168,298 170,298 174,298 338,298 356,298 439,298 464,298 467,298 483,298 485,298 145,299 152,299 157,299 163,299 164,299 171,299 173,299 174,299 337,299 354,299 356,299 358,299 456,299 466,299 468,299 472,299 473,299 480,299 482,299 484,299 485,299 64,300 139,300 141,300 144,300 146,300 150,300 153,300 156,300 163,300 164,300 171,300 172,300 175,300 335,300 353,300 355,300 357,300 359,300 439,300 456,300 467,300 475,300 481,300 482,300 483,300 484,300 485,300 487,300 488,300 131,301 137,301 138,301 142,301 143,301 145,301 146,301 147,301 149,301 151,301 153,301 154,301 156,301 157,301 170,301 171,301 173,301 174,301 175,301 332,301 334,301 354,301 356,301 457,301 469,301 472,301 473,301 474,301 479,301 483,301 487,301 489,301 490,301 57,302 59,302 62,302 130,302 132,302 134,302 149,302 151,302 152,302 154,302 155,302 156,302 158,302 159,302 160,302 169,302 170,302 172,302 176,302 177,302 178,302 331,302 333,302 334,302 354,302 356,302 440,302 457,302 463,302 468,302 470,302 472,302 479,302 481,302 482,302 58,303 60,303 61,303 63,303 132,303 133,303 145,303 148,303 149,303 154,303 169,303 172,303 174,303 175,303 179,303 350,303 354,303 440,303 461,303 465,303 471,303 472,303 473,303 474,303 481,303 488,303 56,304 57,304 61,304 62,304 130,304 138,304 149,304 150,304 153,304 172,304 173,304 176,304 177,304 178,304 330,304 350,304 440,304 458,304 460,304 461,304 463,304 464,304 465,304 467,304 468,304 470,304 471,304 473,304 474,304 480,304 484,304 158,305 159,305 173,305 176,305 226,305 235,305 237,305 328,305 350,305 351,305 353,305 440,305 459,305 461,305 463,305 464,305 467,305 471,305 472,305 474,305 475,305 476,305 477,305 479,305 480,305 481,305 482,305 483,305 129,306 158,306 159,306 173,306 174,306 175,306 176,306 179,306 181,306 351,306 458,306 459,306 461,306 462,306 463,306 465,306 468,306 469,306 477,306 478,306 479,306 482,306 128,307 153,307 173,307 178,307 182,307 225,307 227,307 236,307 237,307 244,307 328,307 439,307 458,307 460,307 480,307 481,307 482,307 487,307 128,308 154,308 155,308 176,308 178,308 180,308 226,308 243,308 251,308 252,308 254,308 345,308 346,308 456,308 472,308 477,308 479,308 486,308 128,309 150,309 151,309 154,309 155,309 174,309 175,309 177,309 178,309 179,309 225,309 227,309 233,309 235,309 243,309 245,309 249,309 257,309 258,309 324,309 328,309 346,309 347,309 440,309 461,309 494,309 43,310 128,310 149,310 151,310 152,310 154,310 179,310 226,310 234,310 243,310 245,310 247,310 248,310 249,310 259,310 323,310 325,310 327,310 328,310 347,310 349,310 351,310 441,310 456,310 460,310 462,310 473,310 477,310 479,310 40,311 42,311 44,311 46,311 47,311 128,311 149,311 150,311 154,311 158,311 174,311 179,311 229,311 230,311 235,311 236,311 238,311 239,311 242,311 244,311 246,311 320,311 342,311 343,311 345,311 350,311 440,311 441,311 455,311 456,311 461,311 462,311 39,312 41,312 42,312 43,312 76,312 78,312 79,312 150,312 157,312 158,312 175,312 176,312 177,312 179,312 231,312 232,312 234,312 238,312 242,312 244,312 245,312 260,312 318,312 319,312 342,312 343,312 345,312 351,312 457,312 458,312 38,313 48,313 49,313 74,313 151,313 152,313 176,313 177,313 178,313 179,313 181,313 225,313 234,313 242,313 261,313 263,313 317,313 339,313 342,313 344,313 349,313 440,313 456,313 36,314 38,314 72,314 78,314 79,314 128,314 173,314 174,314 175,314 178,314 180,314 224,314 226,314 228,314 241,314 242,314 263,314 317,314 338,314 343,314 349,314 354,314 457,314 36,315 49,315 72,315 79,315 128,315 154,315 156,315 175,315 176,315 177,315 180,315 181,315 224,315 241,315 264,315 315,315 316,315 317,315 341,315 342,315 349,315 352,315 353,315 439,315 456,315 79,316 149,316 152,316 153,316 155,316 156,316 157,316 177,316 179,316 181,316 224,316 242,316 265,316 338,316 344,316 346,316 349,316 352,316 353,316 355,316 457,316 78,317 149,317 151,317 154,317 155,317 180,317 224,317 266,317 315,317 338,317 339,317 343,317 345,317 347,317 349,317 351,317 355,317 439,317 455,317 456,317 35,318 72,318 78,318 150,318 152,318 156,318 265,318 314,318 337,318 344,318 346,318 347,318 350,318 351,318 352,318 353,318 354,318 356,318 357,318 456,318 150,319 151,319 153,319 154,319 156,319 177,319 179,319 223,319 225,319 314,319 337,319 338,319 340,319 346,319 350,319 354,319 359,319 439,319 457,319 34,320 156,320 176,320 178,320 180,320 224,320 264,320 314,320 339,320 348,320 351,320 353,320 357,320 358,320 439,320 455,320 456,320 35,321 51,321 78,321 150,321 151,321 158,321 173,321 174,321 175,321 176,321 179,321 224,321 263,321 315,321 337,321 338,321 339,321 341,321 345,321 347,321 348,321 354,321 355,321 455,321 36,322 52,322 72,322 77,322 128,322 150,322 159,322 172,322 175,322 177,322 225,322 229,322 231,322 315,322 336,322 337,322 340,322 342,322 345,322 346,322 348,322 356,322 359,322 455,322 36,323 37,323 50,323 51,323 128,323 148,323 149,323 151,323 152,323 160,323 161,323 171,323 176,323 179,323 180,323 225,323 227,323 228,323 231,323 237,323 240,323 241,323 242,323 244,323 262,323 338,323 342,323 344,323 345,323 347,323 354,323 360,323 455,323 39,324 49,324 73,324 77,324 128,324 150,324 161,324 170,324 178,324 227,324 231,324 234,324 237,324 239,324 240,324 244,324 262,324 315,324 341,324 343,324 347,324 359,324 455,324 35,325 39,325 45,325 48,325 50,325 74,325 76,325 77,325 148,325 161,325 167,325 169,325 179,325 180,325 228,325 229,325 231,325 232,325 234,325 236,325 241,325 244,325 260,325 261,325 316,325 318,325 334,325 336,325 337,325 342,325 345,325 455,325 39,326 44,326 45,326 47,326 76,326 128,326 145,326 146,326 164,326 165,326 166,326 168,326 170,326 230,326 245,326 247,326 249,326 259,326 318,326 319,326 332,326 333,326 456,326 39,327 41,327 42,327 129,327 132,327 140,327 142,327 162,327 168,327 170,327 254,327 255,327 256,327 258,327 330,327 440,327 443,327 452,327 453,327 454,327 455,327 130,328 133,328 134,328 135,328 137,328 138,328 252,328 323,328 326,328 327,328 446,328 447,328 448,328" marker-start="url(#k1)" marker-mid="url(#k1)" marker-end="url(#k1)"/>
<polyline points="250,46 163,49 184,49 245,50 144,52 145,55 134,56 160,56 140,57 42,58 155,58 324,58 375,58 137,59 158,59 320,59 322,59 45,60 135,60 137,60 140,60 143,60 155,60 230,60 325,60 39,61 50,61 136,61 137,61 138,61 143,61 156,61 159,61 166,61 319,61 320,61 326,61 335,61 44,62 48,62 130,62 131,62 135,62 136,62 140,62 151,62 327,62 330,62 333,62 334,62 38,63 40,63 43,63 46,63 132,63 133,63 135,63 150,63 156,63 225,63 229,63 234,63 250,63 252,63 254,63 255,63 324,63 326,63 330,63 41,64 47,64 87,64 130,64 132,64 133,64 145,64 154,64 158,64 226,64 231,64 233,64 248,64 250,64 323,64 324,64 327,64 328,64 332,64 334,64 472,64 43,65 44,65 142,65 149,65 151,65 152,65 153,65 163,65 250,65 251,65 256,65 258,65 316,65 321,65 327,65 330,65 42,66 130,66 131,66 148,66 149,66 152,66 153,66 154,66 155,66 157,66 234,66 247,66 248,66 257,66 322,66 324,66 325,66 327,66 329,66 333,66 39,67 129,67 130,67 150,67 151,67 156,67 161,67 230,67 234,67 235,67 242,67 246,67 319,67 322,67 326,67 41,68 42,68 43,68 45,68 145,68 153,68 159,68 228,68 229,68 236,68 240,68 242,68 243,68 316,68 319,68 323,68 329,68 45,69 46,69 48,69 146,69 151,69 153,69 156,69 224,69 225,69 228,69 229,69 230,69 238,69 242,69 319,69 320,69 326,69 39,70 40,70 44,70 45,70 46,70 47,70 144,70 149,70 150,70 153,70 154,70 156,70 157,70 163,70 223,70 225,70 234,70 236,70 256,70 258,70 317,70 321,70 326,70 328,70 332,70 36,71 39,71 43,71 45,71 47,71 50,71 52,71 62,71 144,71 145,71 149,71 151,71 157,71 162,71 223,71 224,71 236,71 240,71 315,71 323,71 329,71 331,71 332,71 333,71 42,72 129,72 130,72 145,72 156,72 159,72 161,72 236,72 238,72 255,72 258,72 320,72 321,72 327,72 328,72 329,72 336,72 498,72 50,73 130,73 146,73 148,73 151,73 152,73 155,73 157,73 318,73 321,73 322,73 323,73 324,73 326,73 329,73 38,74 47,74 50,74 146,74 147,74 148,74 149,74 151,74 152,74 153,74 157,74 224,74 255,74 322,74 330,74 332,74 42,75 48,75 129,75 130,75 143,75 146,75 148,75 152,75 157,75 160,75 235,75 236,75 254,75 324,75 328,75 39,76 43,76 142,76 143,76 151,76 152,76 223,76 316,76 317,76 323,76 326,76 327,76 328,76 329,76 41,77 45,77 129,77 151,77 152,77 155,77 156,77 225,77 254,77 256,77 317,77 319,77 320,77 321,77 324,77 328,77 357,77 41,78 47,78 143,78 147,78 151,78 225,78 253,78 318,78 319,78 323,78 327,78 328,78 131,79 143,79 224,79 317,79 327,79 40,80 45,80 143,80 150,80 223,80 235,80 252,80 326,80 330,80 48,81 49,81 129,81 130,81 131,81 137,81 147,81 152,81 155,81 156,81 252,81 321,81 322,81 327,81 333,81 345,81 40,82 45,82 46,82 132,82 136,82 143,82 155,82 223,82 224,82 324,82 329,82 344,82 345,82 350,82 446,82 461,82 41,83 44,83 137,83 252,83 253,83 324,83 343,83 346,83 49,84 148,84 225,84 233,84 236,84 248,84 320,84 330,84 332,84 345,84 346,84 347,84 446,84 46,85 81,85 132,85 143,85 145,85 253,85 254,85 333,85 339,85 342,85 343,85 346,85 348,85 442,85 447,85 42,86 129,86 143,86 146,86 233,86 235,86 247,86 248,86 250,86 319,86 323,86 327,86 343,86 353,86 444,86 465,86 143,87 150,87 231,87 247,87 250,87 259,87 320,87 325,87 337,87 340,87 344,87 345,87 346,87 439,87 442,87 448,87 449,87 452,87 455,87 45,88 142,88 224,88 225,88 227,88 228,88 234,88 241,88 249,88 252,88 327,88 332,88 333,88 336,88 348,88 349,88 454,88 462,88 487,88 37,89 39,89 46,89 50,89 130,89 141,89 145,89 233,89 234,89 236,89 237,89 244,89 251,89 253,89 254,89 328,89 333,89 335,89 340,89 341,89 452,89 468,89 476,89 37,90 41,90 142,90 146,90 228,90 237,90 244,90 246,90 248,90 249,90 252,90 254,90 321,90 325,90 329,90 330,90 334,90 335,90 439,90 453,90 455,90 457,90 459,90 467,90 470,90 475,90 40,91 41,91 130,91 141,91 245,91 247,91 248,91 253,91 328,91 342,91 467,91 468,91 476,91 486,91 45,92 224,92 226,92 227,92 229,92 233,92 237,92 240,92 244,92 245,92 247,92 255,92 264,92 317,92 325,92 326,92 334,92 337,92 339,92 343,92 345,92 349,92 460,92 475,92 478,92 486,92 129,93 132,93 141,93 150,93 232,93 234,93 237,93 240,93 243,93 248,93 331,93 339,93 340,93 456,93 42,94 130,94 134,94 141,94 229,94 231,94 234,94 235,94 237,94 242,94 243,94 246,94 249,94 251,94 258,94 327,94 339,94 345,94 349,94 460,94 468,94 473,94 39,95 43,95 130,95 131,95 134,95 142,95 162,95 232,95 234,95 239,95 243,95 256,95 257,95 261,95 333,95 336,95 455,95 462,95 467,95 40,96 41,96 45,96 140,96 236,96 239,96 319,96 321,96 336,96 454,96 463,96 470,96 37,97 38,97 41,97 42,97 129,97 130,97 135,97 159,97 226,97 241,97 245,97 246,97 253,97 259,97 317,97 318,97 319,97 330,97 331,97 338,97 340,97 467,97 469,97 37,98 40,98 44,98 45,98 64,98 67,98 68,98 140,98 159,98 166,98 228,98 231,98 234,98 238,98 243,98 244,98 251,98 252,98 326,98 338,98 339,98 340,98 344,98 346,98 464,98 475,98 476,98 478,98 481,98 484,98 35,99 46,99 47,99 64,99 129,99 130,99 131,99 140,99 153,99 157,99 227,99 231,99 235,99 240,99 242,99 248,99 315,99 337,99 340,99 376,99 455,99 468,99 469,99 474,99 483,99 484,99 36,100 48,100 62,100 68,100 71,100 129,100 142,100 148,100 155,100 156,100 157,100 163,100 226,100 232,100 233,100 236,100 241,100 247,100 248,100 249,100 250,100 251,100 252,100 333,100 336,100 338,100 339,100 345,100 347,100 455,100 456,100 457,100 465,100 474,100 479,100 482,100 483,100 486,100 493,100 35,101 48,101 49,101 51,101 151,101 154,101 155,101 156,101 159,101 162,101 167,101 224,101 232,101 233,101 235,101 240,101 246,101 247,101 252,101 254,101 259,101 334,101 346,101 454,101 479,101 483,101 488,101 36,102 49,102 60,102 61,102 63,102 70,102 148,102 162,102 170,102 223,102 226,102 234,102 236,102 239,102 256,102 344,102 351,102 461,102 474,102 475,102 477,102 490,102 49,103 71,103 144,103 147,103 153,103 167,103 174,103 224,103 231,103 235,103 238,103 240,103 253,103 256,103 257,103 349,103 354,103 439,103 440,103 462,103 467,103 478,103 479,103 50,104 53,104 145,104 146,104 148,104 151,104 259,104 348,104 350,104 352,104 454,104 458,104 465,104 469,104 470,104 481,104 486,104 35,105 50,105 71,105 73,105 129,105 146,105 151,105 153,105 168,105 170,105 236,105 253,105 257,105 259,105 260,105 345,105 346,105 479,105 483,105 485,105 487,105 490,105 71,106 72,106 73,106 146,106 148,106 154,106 168,106 170,106 236,106 252,106 256,106 353,106 454,106 466,106 467,106 474,106 478,106 479,106 482,106 483,106 484,106 488,106 35,107 49,107 51,107 148,107 151,107 232,107 233,107 254,107 344,107 346,107 357,107 454,107 455,107 459,107 475,107 476,107 481,107 483,107 51,108 52,108 60,108 145,108 152,108 163,108 164,108 224,108 232,108 251,108 252,108 255,108 259,108 352,108 441,108 456,108 468,108 469,108 472,108 479,108 483,108 129,109 161,109 163,109 166,109 224,109 230,109 232,109 234,109 236,109 340,109 345,109 348,109 374,109 467,109 468,109 474,109 475,109 477,109 478,109 483,109 37,110 65,110 66,110 144,110 153,110 168,110 226,110 234,110 235,110 237,110 240,110 242,110 245,110 247,110 249,110 251,110 252,110 315,110 337,110 342,110 344,110 349,110 440,110 454,110 461,110 472,110 475,110 480,110 487,110 35,111 38,111 48,111 65,111 71,111 157,111 158,111 161,111 162,111 226,111 229,111 233,111 235,111 238,111 239,111 244,111 245,111 345,111 349,111 452,111 463,111 473,111 483,111 37,112 39,112 40,112 130,112 153,112 224,112 225,112 228,112 249,112 252,112 315,112 316,112 320,112 333,112 335,112 339,112 341,112 348,112 349,112 354,112 445,112 447,112 448,112 462,112 472,112 473,112 40,113 42,113 48,113 67,113 69,113 134,113 140,113 224,113 232,113 233,113 248,113 327,113 329,113 331,113 332,113 334,113 336,113 343,113 441,113 442,113 446,113 448,113 450,113 342,114 442,114 336,154 342,156 164,172 340,172 247,174 447,174 449,174 156,175 342,175 343,175 443,175 41,176 255,176 448,176 139,177 150,177 246,177 250,177 286,177 348,177 446,177 451,177 454,177 140,178 251,178 342,178 445,178 446,178 449,178 452,178 46,179 136,179 142,179 145,179 249,179 250,179 256,179 339,179 341,179 442,179 445,179 40,180 41,180 45,180 46,180 131,180 139,180 140,180 155,180 246,180 248,180 249,180 254,180 325,180 331,180 332,180 337,180 340,180 344,180 441,180 446,180 452,180 39,181 43,181 129,181 130,181 132,181 133,181 134,181 137,181 138,181 140,181 141,181 244,181 247,181 252,181 324,181 333,181 335,181 340,181 345,181 442,181 443,181 449,181 450,181 37,182 40,182 42,182 43,182 44,182 46,182 143,182 146,182 153,182 154,182 156,182 248,182 251,182 253,182 254,182 261,182 315,182 317,182 319,182 322,182 324,182 327,182 333,182 335,182 336,182 337,182 338,182 340,182 341,182 342,182 344,182 348,182 440,182 441,182 442,182 452,182 39,183 43,183 145,183 153,183 237,183 250,183 257,183 320,183 326,183 327,183 336,183 337,183 338,183 340,183 42,184 43,184 46,184 145,184 160,184 250,184 251,184 252,184 253,184 254,184 255,184 324,184 326,184 328,184 330,184 332,184 333,184 335,184 346,184 353,184 358,184 46,185 129,185 145,185 146,185 147,185 155,185 227,185 255,185 320,185 329,185 331,185 332,185 334,185 335,185 346,185 348,185 349,185 353,185 463,185 477,185 46,186 49,186 50,186 147,186 154,186 155,186 159,186 160,186 163,186 254,186 258,186 351,186 352,186 440,186 454,186 470,186 473,186 35,187 50,187 146,187 148,187 149,187 151,187 155,187 157,187 165,187 166,187 228,187 316,187 318,187 347,187 349,187 350,187 351,187 454,187 462,187 474,187 483,187 490,187 36,188 48,188 128,188 151,188 154,188 155,188 158,188 257,188 348,188 349,188 468,188 472,188 473,188 474,188 475,188 476,188 477,188 478,188 481,188 483,188 49,189 53,189 153,189 154,189 157,189 158,189 160,189 166,189 232,189 258,189 348,189 349,189 351,189 354,189 463,189 465,189 470,189 475,189 480,189 497,189 128,190 149,190 153,190 154,190 158,190 159,190 160,190 161,190 165,190 168,190 226,190 241,190 352,190 353,190 355,190 364,190 439,190 455,190 462,190 464,190 473,190 475,190 482,190 484,190 489,190 128,191 150,191 151,191 159,191 160,191 168,191 225,191 232,191 234,191 239,191 241,191 353,191 439,191 457,191 458,191 461,191 465,191 468,191 469,191 477,191 481,191 482,191 487,191 48,192 128,192 148,192 160,192 162,192 165,192 224,192 228,192 229,192 233,192 236,192 350,192 351,192 354,192 355,192 439,192 458,192 466,192 473,192 474,192 476,192 477,192 478,192 486,192 489,192 34,193 52,193 148,193 161,193 225,193 235,193 239,193 351,193 355,193 456,193 458,193 459,193 467,193 470,193 473,193 481,193 482,193 484,193 485,193 488,193 489,193 493,193 498,193 35,194 128,194 150,194 151,194 168,194 171,194 226,194 227,194 230,194 232,194 233,194 238,194 242,194 349,194 350,194 439,194 459,194 467,194 469,194 470,194 484,194 486,194 495,194 128,195 148,195 149,195 151,195 153,195 233,195 239,195 255,195 351,195 352,195 353,195 355,195 357,195 456,195 458,195 464,195 467,195 468,195 469,195 470,195 472,195 477,195 481,195 493,195 68,196 147,196 156,196 164,196 165,196 188,196 236,196 237,196 351,196 359,196 365,196 439,196 455,196 457,196 463,196 467,196 472,196 475,196 477,196 493,196 494,196 64,197 145,197 147,197 148,197 150,197 156,197 157,197 456,197 35,198 36,198 48,198 53,198 148,198 157,198 160,198 165,198 166,198 167,198 224,198 225,198 236,198 238,198 239,198 335,198 336,198 349,198 356,198 439,198 454,198 457,198 480,198 486,198 37,199 53,199 68,199 149,199 152,199 156,199 166,199 235,199 237,199 238,199 258,199 348,199 349,199 351,199 439,199 454,199 459,199 35,200 65,200 146,200 156,200 157,200 159,200 160,200 161,200 223,200 237,200 238,200 254,200 341,200 347,200 351,200 454,200 455,200 466,200 51,201 146,201 147,201 150,201 160,201 162,201 168,201 237,201 252,201 254,201 255,201 331,201 334,201 335,201 336,201 337,201 347,201 348,201 349,201 350,201 369,201 453,201 35,202 48,202 73,202 129,202 145,202 147,202 161,202 163,202 224,202 252,202 255,202 316,202 332,202 335,202 337,202 338,202 341,202 453,202 455,202 459,202 35,203 62,203 66,203 68,203 92,203 148,203 161,203 165,203 252,203 257,203 316,203 331,203 332,203 333,203 340,203 343,203 456,203 35,204 48,204 53,204 61,204 62,204 149,204 154,204 156,204 162,204 163,204 173,204 317,204 319,204 330,204 332,204 345,204 353,204 459,204 35,205 40,205 60,205 66,205 67,205 68,205 145,205 147,205 155,205 161,205 170,205 253,205 317,205 322,205 326,205 330,205 339,205 340,205 452,205 460,205 36,206 39,206 49,206 69,206 129,206 144,206 147,206 157,206 161,206 168,206 321,206 325,206 335,206 442,206 455,206 475,206 36,207 38,207 40,207 47,207 48,207 62,207 65,207 72,207 149,207 157,207 164,207 253,207 255,207 321,207 324,207 330,207 334,207 440,207 445,207 466,207 40,208 41,208 42,208 46,208 52,208 60,208 61,208 65,208 67,208 68,208 131,208 132,208 151,208 154,208 155,208 158,208 223,208 252,208 322,208 326,208 329,208 330,208 334,208 335,208 440,208 446,208 449,208 452,208 36,209 39,209 41,209 44,209 49,209 61,209 66,209 129,209 149,209 158,209 253,209 344,209 442,209 443,209 444,209 445,209 461,209 468,209 39,210 44,210 63,210 64,210 65,210 66,210 67,210 75,210 144,210 145,210 147,210 255,210 317,210 319,210 336,210 445,210 449,210 451,210 38,211 46,211 50,211 62,211 145,211 146,211 151,211 152,211 154,211 158,211 323,211 326,211 336,211 341,211 445,211 450,211 459,211 39,212 45,212 71,212 130,212 143,212 144,212 224,212 252,212 324,212 332,212 336,212 445,212 459,212 41,213 42,213 65,213 143,213 145,213 146,213 156,213 223,213 251,213 252,213 254,213 315,213 324,213 331,213 334,213 444,213 449,213 453,213 37,214 48,214 63,214 66,214 68,214 147,214 223,214 323,214 324,214 332,214 48,215 68,215 69,215 144,215 145,215 316,215 317,215 326,215 327,215 329,215 334,215 38,216 49,216 60,216 69,216 131,216 149,216 165,216 224,216 321,216 325,216 450,216 39,217 46,217 130,217 142,217 158,217 165,217 228,217 325,217 336,217 38,218 44,218 45,218 47,218 95,218 142,218 143,218 147,218 227,218 229,218 234,218 239,218 339,218 345,218 67,219 131,219 142,219 229,219 233,219 239,219 248,219 340,219 45,220 67,220 134,220 140,220 142,220 143,220 144,220 240,220 248,220 252,220 138,221 225,221 231,221 232,221 235,221 246,221 325,221 290,260 270,269 450,285 357,286 453,287 166,288 354,288 360,288 47,289 358,289 442,289 59,290 350,290 357,290 453,290 84,291 171,291 256,291 354,291 360,291 367,291 441,291 449,291 451,291 68,292 357,292 445,292 450,292 454,292 56,293 59,293 60,293 163,293 168,293 348,293 355,293 359,293 439,293 442,293 445,293 449,293 70,294 74,294 75,294 166,294 177,294 340,294 343,294 355,294 440,294 444,294 447,294 452,294 50,295 150,295 151,295 344,295 355,295 359,295 441,295 442,295 444,295 456,295 483,295 36,296 48,296 60,296 82,296 160,296 162,296 164,296 165,296 166,296 167,296 269,296 441,296 53,297 151,297 152,297 154,297 165,297 335,297 455,297 464,297 488,297 490,297 131,298 152,298 159,298 164,298 169,298 173,298 175,298 335,298 339,298 340,298 440,298 441,298 442,298 455,298 463,298 471,298 480,298 52,299 64,299 140,299 156,299 158,299 169,299 175,299 180,299 353,299 357,299 439,299 440,299 459,299 469,299 486,299 500,299 79,300 140,300 155,300 157,300 165,300 337,300 351,300 358,300 360,300 459,300 466,300 472,300 473,300 474,300 480,300 486,300 489,300 44,301 64,301 84,301 132,301 139,301 140,301 141,301 160,301 176,301 353,301 439,301 440,301 475,301 476,301 477,301 478,301 480,301 482,301 484,301 488,301 491,301 48,302 58,302 60,302 61,302 78,302 131,302 135,302 136,302 141,302 142,302 144,302 145,302 148,302 153,302 157,302 161,302 167,302 168,302 179,302 224,302 355,302 462,302 464,302 471,302 473,302 474,302 475,302 476,302 478,302 480,302 488,302 489,302 50,303 53,303 56,303 57,303 130,303 135,303 146,303 153,303 155,303 156,303 157,303 158,303 159,303 163,303 164,303 167,303 170,303 173,303 176,303 178,303 183,303 249,303 331,303 332,303 334,303 351,303 456,303 457,303 460,303 462,303 463,303 464,303 468,303 469,303 470,303 477,303 478,303 40,304 60,304 67,304 134,304 135,304 137,304 148,304 152,304 154,304 155,304 156,304 163,304 168,304 169,304 171,304 175,304 236,304 349,304 351,304 352,304 353,304 466,304 469,304 476,304 477,304 478,304 479,304 482,304 483,304 487,304 45,305 48,305 56,305 83,305 130,305 150,305 153,305 155,305 160,305 171,305 172,305 225,305 240,305 329,305 352,305 457,305 458,305 460,305 462,305 465,305 466,305 468,305 470,305 473,305 484,305 130,306 153,306 165,306 180,306 182,306 227,306 232,306 237,306 328,306 329,306 440,306 460,306 464,306 476,306 497,306 152,307 154,307 155,307 159,307 168,307 176,307 180,307 181,307 226,307 235,307 243,307 256,307 329,307 347,307 348,307 461,307 462,307 468,307 486,307 130,308 131,308 153,308 159,308 166,308 167,308 168,308 179,308 244,308 247,308 250,308 317,308 324,308 344,308 347,308 439,308 440,308 459,308 473,308 478,308 482,308 487,308 488,308 48,309 62,309 170,309 232,309 234,309 244,309 251,309 255,309 329,309 343,309 344,309 441,309 455,309 465,309 472,309 473,309 477,309 478,309 479,309 493,309 495,309 42,310 148,310 150,310 170,310 173,310 174,310 229,310 230,310 235,310 244,310 246,310 256,310 324,310 326,310 343,310 344,310 346,310 348,310 350,310 352,310 440,310 468,310 472,310 478,310 43,311 67,311 79,311 148,311 152,311 153,311 157,311 159,311 172,311 173,311 237,311 243,311 259,311 319,311 321,311 322,311 324,311 326,311 454,311 457,311 474,311 45,312 48,312 129,312 147,312 148,312 149,312 151,312 152,312 154,312 156,312 168,312 174,312 181,312 229,312 230,312 237,312 240,312 241,312 243,312 325,312 350,312 440,312 442,312 455,312 459,312 462,312 47,313 53,313 73,313 75,313 77,313 78,313 79,313 129,313 146,313 153,313 156,313 158,313 168,313 173,313 229,313 235,313 236,313 239,313 243,313 244,313 245,313 260,313 262,313 340,313 343,313 352,313 353,313 457,313 35,314 37,314 39,314 47,314 49,314 74,314 146,314 148,314 154,314 157,314 176,314 177,314 179,314 181,314 227,314 231,314 232,314 316,314 340,314 342,314 357,314 358,314 439,314 440,314 456,314 475,314 39,315 148,315 152,315 153,315 155,315 173,315 174,315 226,315 227,315 228,315 232,315 242,315 243,315 263,315 337,315 343,315 351,315 354,315 361,315 455,315 457,315 469,315 36,316 49,316 50,316 54,316 77,316 128,316 150,316 154,316 158,316 175,316 180,316 182,316 227,316 241,316 243,316 263,316 264,316 315,316 336,316 343,316 354,316 367,316 440,316 455,316 456,316 73,317 77,317 79,317 128,317 148,317 156,317 174,317 176,317 179,317 184,317 263,317 316,317 334,317 336,317 340,317 344,317 350,317 352,317 356,317 364,317 459,317 128,318 151,318 154,318 174,318 176,318 224,318 225,318 227,318 338,318 343,318 355,318 366,318 455,318 457,318 35,319 51,319 128,319 152,319 162,319 163,319 174,319 178,319 182,319 224,319 226,319 264,319 339,319 347,319 352,319 357,319 358,319 456,319 51,320 72,320 128,320 149,320 150,320 154,320 158,320 162,320 163,320 179,320 223,320 225,320 228,320 337,320 338,320 346,320 359,320 72,321 77,321 128,321 157,321 172,321 180,321 228,321 340,321 346,321 349,321 356,321 359,321 362,321 363,321 440,321 148,322 151,322 152,322 174,322 227,322 230,322 242,322 243,322 262,322 338,322 341,322 343,322 344,322 347,322 353,322 354,322 355,322 35,323 38,323 49,323 77,323 155,323 162,323 163,323 166,323 167,323 169,323 170,323 226,323 229,323 230,323 232,323 234,323 236,323 239,323 243,323 245,323 315,323 316,323 335,323 343,323 346,323 348,323 359,323 35,324 46,324 50,324 74,324 75,324 149,324 151,324 160,324 163,324 167,324 168,324 169,324 173,324 180,324 223,324 229,324 233,324 236,324 238,324 241,324 261,324 263,324 317,324 318,324 335,324 342,324 344,324 345,324 346,324 360,324 440,324 75,325 80,325 129,325 147,325 230,325 233,325 235,325 240,325 259,325 317,325 333,325 341,325 349,325 353,325 439,325 440,325 35,326 38,326 46,326 50,326 75,326 77,326 143,326 144,326 147,326 162,326 163,326 171,326 231,326 246,326 257,326 260,326 261,326 317,326 321,326 322,326 334,326 337,326 358,326 439,326 442,326 458,326 40,327 131,327 147,327 163,327 164,327 169,327 250,327 257,327 320,327 321,327 322,327 324,327 329,327 445,327 449,327 450,327 451,327" marker-start="url(#k2)" marker-mid="url(#k2)" marker-end="url(#k2)"/>
<polyline points="135,61 140,61 142,62 144,62 322,62 323,62 140,63 143,63 256,63 322,63 323,63 131,64 151,64 252,64 131,65 132,65 139,65 155,65 228,65 229,65 326,65 328,65 143,66 150,66 151,66 233,66 246,66 258,66 328,66 143,67 145,67 146,67 148,67 149,67 232,67 258,67 323,67 130,68 148,68 149,68 154,68 155,68 226,68 227,68 231,68 246,68 256,68 257,68 326,68 332,68 130,69 145,69 154,69 155,69 233,69 234,69 235,69 240,69 241,69 323,69 324,69 325,69 327,69 328,69 329,69 330,69 336,69 148,70 151,70 155,70 239,70 243,70 255,70 257,70 322,70 327,70 329,70 330,70 130,71 146,71 147,71 148,71 150,71 152,71 153,71 156,71 159,71 239,71 257,71 321,71 322,71 144,72 146,72 147,72 237,72 239,72 241,72 323,72 324,72 325,72 326,72 332,72 333,72 43,73 156,73 235,73 255,73 327,73 39,74 41,74 42,74 130,74 150,74 156,74 160,74 226,74 235,74 254,74 324,74 325,74 326,74 327,74 328,74 329,74 40,75 147,75 150,75 151,75 224,75 327,75 329,75 131,76 154,76 155,76 320,76 143,77 144,77 149,77 150,77 251,77 252,77 322,77 323,77 325,77 326,77 131,78 149,78 150,78 324,78 325,78 326,78 147,79 153,79 157,79 225,79 226,79 235,79 253,79 322,79 323,79 324,79 131,80 132,80 136,80 137,80 142,80 225,80 226,80 236,80 250,80 321,80 322,80 41,81 138,81 140,81 142,81 143,81 223,81 226,81 234,81 250,81 251,81 329,81 129,82 137,82 140,82 251,82 320,82 321,82 347,82 129,83 136,83 143,83 233,83 236,83 248,83 249,83 250,83 320,83 342,83 344,83 43,84 130,84 134,84 137,84 235,84 237,84 253,84 324,84 341,84 343,84 45,85 129,85 130,85 131,85 233,85 234,85 248,85 249,85 323,85 329,85 330,85 340,85 341,85 446,85 132,86 142,86 227,86 229,86 249,86 255,86 326,86 340,86 344,86 346,86 441,86 445,86 446,86 448,86 451,86 131,87 132,87 227,87 233,87 237,87 326,87 339,87 443,87 444,87 453,87 454,87 139,88 140,88 144,88 231,88 233,88 237,88 242,88 243,88 247,88 250,88 326,88 339,88 343,88 344,88 345,88 440,88 453,88 131,89 132,89 137,89 138,89 144,89 224,89 226,89 228,89 241,89 242,89 246,89 248,89 249,89 252,89 324,89 337,89 344,89 453,89 131,90 132,90 224,90 227,90 235,90 238,90 245,90 251,90 253,90 344,90 452,90 456,90 129,91 131,91 132,91 135,91 231,91 234,91 236,91 237,91 244,91 336,91 343,91 344,91 439,91 452,91 454,91 130,92 131,92 132,92 134,92 139,92 143,92 144,92 234,92 236,92 333,92 336,92 340,92 439,92 455,92 131,93 133,93 134,93 142,93 144,93 231,93 236,93 239,93 242,93 332,93 335,93 336,93 337,93 455,93 129,94 132,94 135,94 136,94 238,94 239,94 245,94 330,94 333,94 336,94 454,94 135,95 240,95 241,95 242,95 330,95 439,95 454,95 39,96 130,96 131,96 132,96 135,96 324,96 325,96 326,96 329,96 330,96 332,96 39,97 44,97 132,97 133,97 134,97 139,97 140,97 242,97 320,97 323,97 324,97 326,97 332,97 339,97 39,98 130,98 132,98 141,98 230,98 242,98 250,98 316,98 322,98 325,98 332,98 337,98 36,99 65,99 68,99 69,99 161,99 243,99 250,99 252,99 255,99 317,99 330,99 332,99 334,99 336,99 338,99 339,99 475,99 480,99 486,99 63,100 65,100 66,100 69,100 158,100 224,100 225,100 239,100 244,100 340,100 341,100 342,100 346,100 439,100 473,100 481,100 484,100 485,100 487,100 36,101 67,101 68,101 70,101 129,101 143,101 157,101 158,101 161,101 225,101 229,101 230,101 237,101 335,101 343,101 345,101 440,101 472,101 476,101 477,101 480,101 484,101 485,101 35,102 48,102 154,102 160,102 224,102 225,102 227,102 231,102 233,102 238,102 240,102 252,102 253,102 254,102 345,102 473,102 478,102 481,102 486,102 35,103 36,103 48,103 62,103 70,103 157,103 159,103 232,103 234,103 236,103 254,103 454,103 472,103 475,103 480,103 484,103 62,104 70,104 149,104 157,104 224,104 231,104 240,104 241,104 253,104 254,104 345,104 349,104 62,105 70,105 154,105 166,105 167,105 235,105 252,105 351,105 452,105 470,105 471,105 480,105 67,106 145,106 151,106 153,106 155,106 167,106 235,106 238,106 239,106 253,106 254,106 345,106 346,106 354,106 440,106 451,106 452,106 453,106 481,106 70,107 146,107 147,107 160,107 164,107 165,107 168,107 226,107 228,107 246,107 250,107 252,107 253,107 256,107 345,107 347,107 452,107 473,107 479,107 47,108 62,108 65,108 129,108 151,108 154,108 160,108 165,108 223,108 226,108 227,108 250,108 253,108 344,108 345,108 346,108 348,108 440,108 471,108 475,108 476,108 37,109 49,109 63,109 69,109 155,109 159,109 225,109 228,109 231,109 237,109 238,109 244,109 250,109 252,109 253,109 331,109 332,109 339,109 341,109 346,109 440,109 450,109 451,109 452,109 472,109 480,109 40,110 67,110 129,110 157,110 161,110 228,110 239,110 241,110 244,110 250,110 331,110 339,110 346,110 347,110 474,110 478,110 479,110 41,111 66,111 129,111 154,111 159,111 160,111 227,111 228,111 231,111 232,111 247,111 249,111 250,111 315,111 330,111 332,111 333,111 336,111 340,111 341,111 342,111 478,111 479,111 480,111 41,112 133,112 162,112 163,112 239,112 321,112 332,112 334,112 441,112 446,112 45,113 133,113 141,113 318,113 324,113 328,113 335,113 443,113 444,113 444,176 447,177 447,178 137,179 248,179 134,180 138,180 341,180 342,180 348,180 444,180 445,180 448,180 131,181 249,181 250,181 336,181 337,181 338,181 339,181 341,181 342,181 343,181 441,181 444,181 446,181 451,181 129,182 133,182 250,182 256,182 339,182 349,182 350,182 446,182 44,183 143,183 144,183 158,183 245,183 246,183 247,183 248,183 249,183 254,183 328,183 343,183 346,183 349,183 350,183 440,183 452,183 453,183 44,184 141,184 143,184 147,184 244,184 322,184 323,184 325,184 327,184 331,184 348,184 440,184 451,184 452,184 37,185 156,185 157,185 243,185 253,185 254,185 317,185 318,185 319,185 328,185 330,185 340,185 351,185 451,185 452,185 42,186 143,186 144,186 145,186 156,186 157,186 242,186 255,186 256,186 318,186 333,186 336,186 474,186 475,186 480,186 481,186 47,187 49,187 145,187 147,187 156,187 160,187 254,187 256,187 332,187 475,187 481,187 482,187 152,188 153,188 157,188 160,188 161,188 242,188 256,188 317,188 347,188 467,188 35,189 36,189 46,189 162,189 240,189 242,189 256,189 260,189 315,189 352,189 456,189 466,189 467,189 482,189 493,189 48,190 152,190 156,190 162,190 163,190 232,190 254,190 348,190 454,190 456,190 467,190 472,190 474,190 476,190 477,190 478,190 483,190 35,191 48,191 49,191 147,191 153,191 162,191 163,191 164,191 165,191 231,191 255,191 350,191 454,191 478,191 480,191 483,191 484,191 485,191 35,192 36,192 149,192 152,192 153,192 157,192 164,192 166,192 239,192 356,192 455,192 456,192 467,192 469,192 472,192 475,192 481,192 35,193 49,193 50,193 149,193 152,193 160,193 162,193 226,193 228,193 233,193 255,193 350,193 352,193 353,193 455,193 461,193 465,193 466,193 475,193 477,193 478,193 49,194 148,194 149,194 153,194 154,194 231,194 235,194 236,194 239,194 240,194 241,194 253,194 254,194 353,194 456,194 460,194 461,194 465,194 466,194 477,194 478,194 487,194 146,195 147,195 156,195 158,195 164,195 225,195 232,195 234,195 235,195 236,195 350,195 473,195 476,195 484,195 35,196 144,196 149,196 150,196 152,196 154,196 225,196 231,196 233,196 235,196 456,196 484,196 35,197 67,197 149,197 160,197 164,197 224,197 225,197 232,197 237,197 239,197 240,197 255,197 335,197 349,197 351,197 439,197 454,197 46,198 145,198 149,198 151,198 156,198 159,198 164,198 234,198 235,198 315,198 345,198 478,198 38,199 46,199 48,199 49,199 146,199 153,199 163,199 164,199 165,199 236,199 254,199 315,199 334,199 345,199 350,199 453,199 36,200 37,200 48,200 49,200 149,200 151,200 162,200 164,200 255,200 315,200 316,200 331,200 334,200 335,200 340,200 342,200 343,200 344,200 346,200 62,201 65,201 69,201 144,201 145,201 148,201 149,201 161,201 163,201 224,201 253,201 315,201 332,201 343,201 455,201 456,201 37,202 45,202 65,202 130,202 149,202 154,202 162,202 317,202 318,202 329,202 333,202 334,202 339,202 345,202 346,202 452,202 454,202 456,202 39,203 47,203 48,203 64,203 65,203 129,203 130,203 145,203 150,203 162,203 224,203 319,203 322,203 334,203 339,203 345,203 346,203 349,203 440,203 37,204 38,204 40,204 43,204 46,204 64,204 66,204 67,204 68,204 143,204 150,204 153,204 158,204 253,204 254,204 325,204 327,204 339,204 343,204 441,204 36,205 46,205 64,205 70,205 130,205 144,205 153,205 154,205 156,205 157,205 159,205 160,205 163,205 321,205 323,205 328,205 329,205 441,205 45,206 47,206 48,206 68,206 70,206 130,206 151,206 152,206 153,206 155,206 251,206 252,206 253,206 450,206 44,207 66,207 67,207 69,207 70,207 251,207 444,207 447,207 451,207 47,208 143,208 144,208 444,208 445,208 447,208 448,208 450,208 451,208 45,209 46,209 65,209 67,209 69,209 130,209 143,209 144,209 223,209 224,209 252,209 447,209 451,209 452,209 37,210 46,210 68,210 69,210 130,210 143,210 226,210 251,210 444,210 44,211 66,211 67,211 131,211 252,211 44,212 46,212 64,212 65,212 132,212 223,212 44,213 46,213 66,213 67,213 144,213 228,213 43,214 44,214 45,214 65,214 129,214 144,214 145,214 225,214 227,214 250,214 338,214 65,215 66,215 67,215 226,215 232,215 66,216 68,216 143,216 225,216 227,216 67,217 131,217 144,217 145,217 227,217 231,217 232,217 238,217 131,218 132,218 144,218 145,218 226,218 228,218 231,218 232,218 236,218 237,218 238,218 249,218 134,219 140,219 232,219 238,219 249,219 40,220 239,220 135,221 136,221 137,221 244,221 245,221 358,290 359,291 354,292 358,292 346,293 351,293 353,293 356,293 357,293 446,293 450,293 451,293 345,294 347,294 350,294 351,294 356,294 350,295 351,295 354,295 356,295 445,295 453,295 155,296 343,296 356,296 442,296 444,296 153,297 166,297 454,297 154,298 161,298 165,298 166,298 341,298 355,298 484,298 153,299 155,299 165,299 168,299 170,299 355,299 441,299 442,299 467,299 483,299 145,300 158,300 162,300 170,300 173,300 336,300 350,300 440,300 150,301 155,301 158,301 159,301 161,301 163,301 166,301 335,301 355,301 456,301 481,301 137,302 139,302 140,302 146,302 147,302 150,302 164,302 166,302 332,302 469,302 477,302 62,303 131,303 134,303 137,303 150,303 151,303 152,303 333,303 335,303 353,303 476,303 479,303 480,303 131,304 133,304 136,304 145,304 151,304 157,304 158,304 161,304 170,304 174,304 455,304 457,304 462,304 472,304 151,305 152,305 156,305 157,305 161,305 167,305 168,305 170,305 174,305 175,305 236,305 330,305 469,305 478,305 147,306 154,306 155,306 164,306 225,306 226,306 235,306 331,306 350,306 457,306 480,306 481,306 130,307 146,307 150,307 158,307 161,307 179,307 345,307 346,307 349,307 350,307 440,307 457,307 129,308 150,308 158,308 162,308 173,308 253,308 328,308 330,308 331,308 129,309 130,309 149,309 152,309 156,309 158,309 159,309 160,309 168,309 169,309 171,309 173,309 176,309 226,309 250,309 252,309 342,309 345,309 129,310 153,310 155,310 161,310 171,310 175,310 177,310 257,310 258,310 329,310 342,310 345,310 455,310 461,310 129,311 147,311 151,311 160,311 175,311 176,311 177,311 178,311 247,311 248,311 256,311 257,311 323,311 325,311 327,311 328,311 340,311 341,311 344,311 40,312 47,312 130,312 146,312 153,312 162,312 173,312 178,312 235,312 236,312 239,312 246,312 248,312 320,312 321,312 322,312 326,312 329,312 340,312 341,312 344,312 39,313 40,313 42,313 43,313 76,313 147,313 150,313 154,313 157,313 159,313 164,313 175,313 232,313 233,313 240,313 241,313 319,313 322,313 330,313 338,313 341,313 350,313 351,313 455,313 40,314 46,314 48,314 73,314 76,314 77,314 147,314 151,314 152,314 153,314 155,314 156,314 158,314 159,314 225,314 234,314 236,314 240,314 341,314 352,314 353,314 455,314 37,315 38,315 73,315 77,315 78,315 149,315 157,315 169,315 172,315 225,315 240,315 336,315 440,315 73,316 78,316 148,316 151,316 169,316 174,316 176,316 226,316 228,316 316,316 317,316 318,316 334,316 335,316 337,316 351,316 454,316 36,317 50,317 157,317 158,317 265,317 335,317 337,317 346,317 50,318 77,318 149,318 173,318 226,318 228,318 241,318 242,318 336,318 339,318 340,318 440,318 72,319 78,319 149,319 167,319 171,319 173,319 176,319 228,319 353,319 78,320 147,320 148,320 157,320 161,320 167,320 173,320 174,320 175,320 229,320 347,320 454,320 50,321 148,321 149,321 159,321 165,321 166,321 167,321 170,321 225,321 226,321 241,321 262,321 336,321 49,322 51,322 73,322 149,322 160,322 164,322 170,322 171,322 235,322 236,322 237,322 261,322 334,322 335,322 440,322 73,323 164,323 233,323 246,323 317,323 336,323 337,323 440,323 40,324 48,324 129,324 148,324 162,324 166,324 179,324 228,324 230,324 232,324 235,324 316,324 334,324 337,324 42,325 44,325 46,325 144,325 162,325 163,325 166,325 245,325 246,325 247,325 248,325 249,325 326,325 42,326 43,326 129,326 140,326 141,326 169,326 320,326 331,326 440,326 441,326 443,326 133,327 136,327 139,327 251,327 252,327 253,327 325,327 326,327 327,327 328,327 444,327" marker-start="url(#k3)" marker-mid="url(#k3)" marker-end="url(#k3)"/>
<polyline points="139,61 137,62 138,62 136,63 137,63 151,63 140,64 141,64 253,64 256,64 154,65 255,65 324,65 325,65 132,66 139,66 228,66 229,66 144,67 152,67 228,67 229,67 233,67 247,67 248,67 257,67 324,67 47,68 143,68 144,68 150,68 151,68 232,68 235,68 244,68 245,68 324,68 325,68 47,69 131,69 143,69 144,69 231,69 243,69 130,70 131,70 152,70 233,70 235,70 240,70 241,70 242,70 254,70 323,70 225,71 230,71 241,71 255,71 256,71 326,71 328,71 153,72 155,72 226,72 240,72 322,72 42,73 142,73 153,73 154,73 325,73 328,73 40,74 131,74 132,74 145,74 236,74 323,74 153,75 225,75 252,75 326,75 132,76 153,76 235,76 236,76 254,76 324,76 325,76 131,77 132,77 142,77 224,77 226,77 327,77 132,78 137,78 142,78 235,78 251,78 132,79 133,79 142,79 147,80 251,80 133,81 136,81 225,81 133,82 232,82 346,82 130,83 133,83 134,83 140,83 142,83 226,83 235,83 131,84 132,84 143,84 226,84 232,84 234,84 342,84 344,84 137,85 142,85 226,85 228,85 231,85 232,85 235,85 324,85 344,85 228,86 230,86 236,86 242,86 341,86 345,86 447,86 449,86 135,87 139,87 230,87 232,87 235,87 236,87 241,87 246,87 249,87 251,87 338,87 341,87 343,87 450,87 131,88 229,88 230,88 232,88 246,88 248,88 251,88 340,88 341,88 441,88 452,88 140,89 227,89 229,89 232,89 235,89 238,89 243,89 245,89 247,89 336,89 451,89 454,89 141,90 232,90 233,90 242,90 243,90 247,90 336,90 337,90 339,90 342,90 343,90 454,90 224,91 229,91 230,91 233,91 235,91 238,91 240,91 243,91 337,91 339,91 340,91 341,91 453,91 138,92 140,92 230,92 231,92 235,92 239,92 242,92 243,92 338,92 454,92 130,93 135,93 143,93 238,93 241,93 333,93 334,93 439,93 454,93 137,94 139,94 140,94 248,94 132,95 136,95 139,95 136,96 453,96 40,97 43,97 45,97 136,97 142,97 321,97 322,97 325,97 327,97 329,97 454,97 38,98 41,98 43,98 134,98 135,98 139,98 229,98 317,98 320,98 321,98 330,98 331,98 37,99 40,99 41,99 44,99 45,99 132,99 323,99 326,99 331,99 485,99 37,100 47,100 64,100 141,100 237,100 238,100 245,100 315,100 319,100 330,100 331,100 454,100 464,100 477,100 480,100 37,101 64,101 160,101 163,101 236,101 239,101 242,101 248,101 249,101 250,101 251,101 333,101 337,101 453,101 455,101 464,101 473,101 474,101 475,101 64,102 69,102 129,102 155,102 156,102 157,102 159,102 164,102 228,102 230,102 232,102 237,102 246,102 251,102 315,102 336,102 343,102 347,102 453,102 472,102 476,102 148,103 154,103 155,103 156,103 160,103 162,103 165,103 228,103 237,103 241,103 242,103 338,103 344,103 345,103 347,103 476,103 481,103 482,103 35,104 165,104 228,104 236,104 238,104 239,104 347,104 440,104 480,104 67,105 145,105 152,105 155,105 165,105 224,105 233,105 254,105 347,105 451,105 454,105 464,105 465,105 469,105 478,105 35,106 49,106 70,106 129,106 164,106 223,106 243,106 347,106 348,106 471,106 473,106 475,106 476,106 477,106 63,107 67,107 152,107 153,107 154,107 162,107 163,107 223,107 231,107 234,107 235,107 236,107 245,107 249,107 251,107 343,107 348,107 349,107 440,107 441,107 468,107 471,107 472,107 477,107 36,108 64,108 68,108 69,108 153,108 162,108 225,108 233,108 235,108 254,108 347,108 349,108 477,108 47,109 64,109 67,109 153,109 156,109 157,109 160,109 164,109 165,109 226,109 239,109 240,109 246,109 248,109 251,109 342,109 344,109 347,109 441,109 442,109 443,109 46,110 64,110 68,110 155,110 158,110 227,110 332,110 338,110 343,110 443,110 39,111 40,111 130,111 142,111 143,111 335,111 338,111 339,111 343,111 441,111 442,111 443,111 45,112 330,112 442,112 444,112 43,113 44,113 135,113 139,113 321,113 322,113 323,113 330,113 446,179 447,179 137,180 247,180 447,180 135,181 136,181 139,181 142,181 344,181 445,181 447,181 130,182 138,182 139,182 140,182 249,182 252,182 345,182 443,182 38,183 130,183 141,183 251,183 252,183 322,183 344,183 441,183 443,183 451,183 38,184 40,184 41,184 45,184 245,184 247,184 248,184 249,184 336,184 338,184 341,184 349,184 350,184 42,185 141,185 144,185 321,185 322,185 336,185 337,185 339,185 350,185 36,186 37,186 129,186 243,186 319,186 328,186 329,186 332,186 337,186 347,186 350,186 453,186 38,187 42,187 43,187 46,187 144,187 242,187 255,187 440,187 453,187 37,188 38,188 143,188 146,188 156,188 255,188 346,188 350,188 353,188 354,188 454,188 455,188 48,189 146,189 155,189 156,189 161,189 241,189 255,189 316,189 347,189 350,189 455,189 481,189 483,189 484,189 35,190 146,190 157,190 315,190 347,190 469,190 470,190 479,190 480,190 481,190 146,191 154,191 156,191 158,191 161,191 348,191 349,191 440,191 455,191 456,191 467,191 472,191 473,191 474,191 475,191 47,192 49,192 150,192 151,192 156,192 159,192 161,192 163,192 240,192 244,192 457,192 465,192 484,192 485,192 151,193 153,193 159,193 164,193 240,193 241,193 460,193 468,193 469,193 471,193 472,193 479,193 152,194 156,194 158,194 161,194 162,194 163,194 164,194 228,194 229,194 351,194 464,194 468,194 471,194 35,195 48,195 150,195 154,195 157,195 161,195 162,195 163,195 226,195 230,195 231,195 240,195 241,195 242,195 253,195 254,195 347,195 349,195 48,196 145,196 146,196 148,196 155,196 158,196 161,196 163,196 166,196 226,196 228,196 232,196 234,196 239,196 254,196 255,196 36,197 46,197 144,197 151,197 158,197 163,197 165,197 166,197 167,197 226,197 228,197 236,197 254,197 346,197 350,197 64,198 65,198 66,198 67,198 144,198 150,198 152,198 161,198 163,198 240,198 254,198 333,198 334,198 337,198 45,199 144,199 150,199 151,199 157,199 159,199 161,199 162,199 223,199 234,199 335,199 336,199 452,199 45,200 46,200 69,200 129,200 152,200 153,200 253,200 336,200 337,200 345,200 452,200 37,201 46,201 47,201 48,201 66,201 129,201 153,201 154,201 156,201 157,201 159,201 236,201 238,201 316,201 318,201 330,201 333,201 339,201 454,201 38,202 66,202 146,202 152,202 153,202 155,202 159,202 160,202 330,202 331,202 440,202 46,203 147,203 152,203 155,203 159,203 160,203 163,203 330,203 36,204 39,204 42,204 65,204 130,204 157,204 159,204 161,204 223,204 252,204 320,204 324,204 326,204 328,204 329,204 37,205 38,205 39,205 42,205 65,205 69,205 223,205 252,205 37,206 38,206 46,206 154,206 156,206 224,206 235,206 444,206 445,206 446,206 447,206 449,206 451,206 45,207 46,207 68,207 143,207 224,207 446,207 452,207 38,208 45,208 66,208 69,208 70,208 133,208 225,208 236,208 40,209 42,209 47,209 68,209 131,209 132,209 133,209 225,209 250,209 223,210 39,211 40,211 41,211 42,211 132,211 223,211 226,211 38,212 43,212 66,212 67,212 251,212 38,213 64,213 132,213 225,213 227,213 38,214 130,214 131,214 143,214 228,214 229,214 63,215 130,215 131,215 233,215 234,215 235,215 236,215 231,216 236,216 250,216 132,217 226,217 229,217 230,217 249,217 250,217 133,218 135,218 241,218 247,218 248,218 135,219 141,219 227,219 228,219 240,219 238,220 243,220 247,220 248,221 446,291 355,292 356,292 359,292 352,293 348,294 349,294 451,294 454,294 455,294 345,295 347,295 443,295 446,295 447,295 450,295 447,296 453,296 342,297 343,297 344,297 355,297 443,297 453,297 153,298 155,298 160,298 342,298 354,298 154,299 162,299 166,299 167,299 338,299 340,299 342,299 351,299 352,299 455,299 154,300 159,300 160,300 166,300 169,300 174,300 352,300 162,301 164,301 165,301 168,301 169,301 143,302 162,302 171,302 353,302 456,302 136,303 138,303 144,303 147,303 160,303 166,303 168,303 171,303 177,303 349,303 352,303 441,303 455,303 475,303 132,304 139,304 142,304 146,304 159,304 164,304 167,304 331,304 348,304 441,304 456,304 131,305 132,305 135,305 138,305 148,305 149,305 154,305 162,305 163,305 164,305 169,305 441,305 456,305 135,306 148,306 150,306 151,306 152,306 157,306 160,306 161,306 166,306 167,306 170,306 236,306 332,306 456,306 129,307 131,307 145,307 147,307 149,307 151,307 162,307 165,307 167,307 169,307 172,307 456,307 149,308 151,308 152,308 156,308 163,308 165,308 329,308 455,308 136,309 146,309 153,309 157,309 161,309 166,309 167,309 172,309 254,309 130,310 131,310 146,310 156,310 168,310 169,310 172,310 176,310 178,310 250,310 251,310 252,310 331,310 340,310 454,310 146,311 155,311 168,311 171,311 249,311 251,311 253,311 258,311 329,311 331,311 335,311 442,311 44,312 46,312 155,312 159,312 160,312 164,312 169,312 172,312 247,312 259,312 324,312 330,312 331,312 339,312 441,312 41,313 131,313 148,313 149,313 163,313 167,313 174,313 231,313 237,313 238,313 318,313 321,313 331,313 335,313 441,313 442,313 129,314 149,314 150,314 171,314 172,314 229,314 233,314 239,314 243,314 244,314 245,314 262,314 318,314 337,314 350,314 453,314 454,314 150,315 151,315 160,315 170,315 171,315 239,315 244,315 262,315 318,315 335,315 350,315 441,315 442,315 443,315 454,315 37,316 39,316 225,316 229,316 231,316 244,316 319,316 350,316 170,317 173,317 175,317 225,317 226,317 242,317 244,317 262,317 264,317 317,317 440,317 442,317 148,318 157,318 164,318 171,318 262,318 263,318 264,318 315,318 334,318 335,318 157,319 172,319 227,319 241,319 262,319 315,319 336,319 351,319 455,319 35,320 50,320 164,320 168,320 171,320 226,320 242,320 263,320 315,320 36,321 73,321 147,321 161,321 171,321 229,321 242,321 243,321 334,321 335,321 50,322 146,322 147,322 165,322 166,322 167,322 169,322 176,322 226,322 232,322 241,322 244,322 246,322 316,322 39,323 40,323 74,323 76,323 147,323 165,323 235,323 238,323 45,324 47,324 76,324 130,324 144,324 147,324 164,324 245,324 320,324 321,324 323,324 333,324 47,325 130,325 164,325 319,325 320,325 441,325 442,325 454,325 40,326 130,326 142,326 256,326 258,326 326,326 330,326 455,326 130,327 138,327 448,327" marker-start="url(#k4)" marker-mid="url(#k4)" marker-end="url(#k4)"/>
<polyline points="139,62 143,62 138,63 139,63 134,64 137,64 254,64 255,64 137,65 140,65 141,65 252,65 142,66 249,66 256,66 131,67 256,67 152,68 233,68 234,68 152,69 244,69 255,69 143,70 229,70 231,70 232,70 244,70 324,70 131,71 154,71 155,71 229,71 327,71 143,72 154,72 224,72 235,72 141,73 145,73 224,73 226,73 234,73 238,73 142,74 143,74 144,74 233,74 234,74 131,75 142,75 223,75 226,75 234,75 253,75 325,75 141,76 224,76 227,76 253,76 137,77 141,77 235,77 253,77 234,78 250,78 252,78 137,79 227,79 251,79 252,79 135,80 138,80 139,80 224,80 234,80 139,81 141,81 235,81 236,81 130,82 131,82 138,82 139,82 142,82 225,82 226,82 233,82 250,82 132,83 139,83 141,83 225,83 230,83 232,83 133,84 141,84 142,84 228,84 229,84 133,85 136,85 140,85 141,85 227,85 229,85 247,85 135,86 136,86 140,86 231,86 246,86 342,86 450,86 133,87 134,87 136,87 140,87 141,87 142,87 238,87 240,87 242,87 245,87 248,87 447,87 451,87 132,88 133,88 141,88 235,88 236,88 238,88 239,88 240,88 244,88 245,88 342,88 442,88 448,88 449,88 451,88 239,89 240,89 342,89 343,89 440,89 135,90 136,90 137,90 138,90 229,90 230,90 231,90 234,90 239,90 338,90 340,90 341,90 451,90 134,91 136,91 137,91 138,91 139,91 239,91 241,91 242,91 133,92 135,92 137,92 232,92 238,92 241,92 139,93 140,93 235,93 338,93 137,95 138,95 439,96 137,97 138,97 328,97 439,97 42,98 133,98 319,98 323,98 324,98 439,98 38,99 42,99 43,99 139,99 251,99 316,99 325,99 439,99 39,100 46,100 130,100 317,100 332,100 453,100 478,100 47,101 65,101 66,101 69,101 130,101 238,101 241,101 315,101 336,101 338,101 339,101 340,101 341,101 342,101 47,102 65,102 66,102 143,102 158,102 161,102 163,102 241,102 250,102 332,102 333,102 337,102 338,102 346,102 441,102 69,103 225,103 226,103 227,103 229,103 230,103 233,103 245,103 252,103 315,103 342,103 473,103 477,103 67,104 69,104 129,104 144,104 154,104 158,104 229,104 232,104 235,104 237,104 245,104 246,104 250,104 346,104 471,104 474,104 475,104 479,104 36,105 49,105 68,105 231,105 232,105 239,105 250,105 251,105 348,105 350,105 440,105 453,105 475,105 476,105 36,106 47,106 63,106 144,106 152,106 165,106 166,106 231,106 232,106 233,106 246,106 249,106 250,106 251,106 350,106 36,107 47,107 64,107 68,107 145,107 224,107 227,107 230,107 238,107 239,107 247,107 478,107 49,108 63,108 66,108 67,108 155,108 156,108 161,108 228,108 230,108 231,108 234,108 236,108 239,108 246,108 247,108 343,108 451,108 452,108 478,108 40,109 48,109 65,109 66,109 68,109 144,109 154,109 158,109 227,109 243,109 245,109 247,109 249,109 315,109 316,109 334,109 337,109 343,109 154,110 156,110 159,110 316,110 317,110 333,110 336,110 441,110 442,110 46,111 131,111 316,111 326,111 331,111 334,111 446,111 448,111 449,111 42,112 43,112 317,112 319,112 327,112 329,112 331,112 443,112 136,113 137,113 135,180 136,180 448,181 132,182 134,182 135,182 136,182 137,182 141,182 142,182 444,182 447,182 131,183 132,183 142,183 253,183 341,183 342,183 345,183 442,183 448,183 449,183 39,184 130,184 142,184 144,184 246,184 337,184 342,184 343,184 344,184 345,184 450,184 38,185 40,185 43,185 44,185 143,185 244,185 245,185 248,185 325,185 327,185 338,185 440,185 450,185 38,186 43,186 142,186 244,186 253,186 322,186 326,186 327,186 330,186 450,186 452,186 36,187 37,187 39,187 44,187 143,187 333,187 345,187 452,187 39,188 41,188 47,188 144,188 145,188 245,188 318,188 336,188 345,188 440,188 453,188 482,188 37,189 45,189 47,189 243,189 245,189 252,189 317,189 331,189 36,190 155,190 330,190 331,190 349,190 350,190 452,190 36,191 152,191 157,191 242,191 254,191 453,191 476,191 479,191 241,192 242,192 245,192 255,192 315,192 349,192 454,192 468,192 479,192 48,193 145,193 146,193 150,193 154,193 156,193 158,193 163,193 254,193 332,193 349,193 439,193 480,193 36,194 48,194 146,194 157,194 160,194 252,194 352,194 472,194 473,194 144,195 145,195 160,195 228,195 315,195 348,195 455,195 36,196 151,196 157,196 159,196 160,196 162,196 229,196 230,196 240,196 253,196 346,196 349,196 350,196 37,197 38,197 48,197 152,197 154,197 159,197 161,197 229,197 231,197 233,197 241,197 315,197 334,197 37,198 47,198 154,198 162,198 226,198 228,198 229,198 251,198 252,198 346,198 347,198 47,199 160,199 225,199 332,199 333,199 337,199 341,199 342,199 346,199 347,199 38,200 40,200 47,200 130,200 145,200 150,200 158,200 163,200 252,200 328,200 333,200 339,200 45,201 130,201 152,201 155,201 317,201 329,201 338,201 440,201 44,202 46,202 47,202 131,202 143,202 156,202 236,202 322,202 328,202 44,203 143,203 146,203 149,203 153,203 154,203 158,203 225,203 320,203 323,203 324,203 329,203 441,203 44,204 160,204 321,204 322,204 323,204 451,204 131,205 140,205 251,205 446,205 447,205 450,205 451,205 140,206 143,206 234,206 236,206 237,206 250,206 443,206 448,206 452,206 42,207 43,207 131,207 448,207 449,207 450,207 39,208 44,208 224,208 237,208 43,209 142,209 226,209 236,209 251,209 41,210 42,210 43,210 224,210 225,210 235,210 236,210 250,210 43,211 143,211 144,211 225,211 234,211 235,211 236,211 225,212 226,212 234,212 43,213 45,213 140,213 142,213 226,213 234,213 235,213 64,214 142,214 226,214 235,214 236,214 237,214 64,215 143,215 227,215 228,215 237,215 238,215 250,215 67,216 132,216 142,216 226,216 228,216 238,216 134,217 135,217 139,217 141,217 225,217 236,217 237,217 239,217 134,218 136,218 240,218 136,219 247,219 135,220 136,220 244,220 246,220 247,221 446,292 347,293 354,293 358,293 346,294 450,294 451,295 443,296 451,296 155,297 345,297 352,297 353,297 451,297 452,297 352,298 353,298 454,298 160,299 161,299 339,299 341,299 454,299 161,300 167,300 168,300 338,300 441,300 455,300 167,301 336,301 337,301 351,301 352,301 455,301 138,302 163,302 165,302 335,302 350,302 351,302 352,302 441,302 141,303 142,303 143,303 161,303 147,304 160,304 162,304 166,304 332,304 333,304 344,304 475,304 133,305 142,305 147,305 165,305 331,305 332,305 349,305 131,306 146,306 149,306 156,306 168,306 169,306 171,306 172,306 156,307 160,307 164,307 166,307 170,307 330,307 331,307 332,307 454,307 145,308 146,308 160,308 161,308 164,308 169,308 170,308 171,308 172,308 343,308 131,309 148,309 162,309 253,309 330,309 454,309 145,310 147,310 158,310 159,310 160,310 253,310 255,310 330,310 332,310 339,310 453,310 130,311 131,311 132,311 135,311 141,311 156,311 162,311 163,311 166,311 169,311 170,311 252,311 255,311 332,311 334,311 161,312 163,312 165,312 170,312 256,312 258,312 335,312 337,312 443,312 45,313 46,313 130,313 155,313 162,313 165,313 166,313 171,313 172,313 320,313 325,313 326,313 332,313 337,313 454,313 75,314 145,314 160,314 167,314 168,314 170,314 230,314 235,314 237,314 260,314 261,314 335,314 336,314 351,314 441,314 442,314 452,314 48,315 74,315 76,315 147,315 158,315 161,315 165,315 231,315 233,315 234,315 237,315 261,315 334,315 38,316 76,316 147,316 159,316 162,316 165,316 234,316 237,316 240,316 262,316 441,316 442,316 49,317 147,317 159,317 163,317 169,317 171,317 172,317 227,317 228,317 243,317 318,317 441,317 454,317 73,318 158,318 162,318 163,318 170,318 172,318 175,318 240,318 316,318 147,319 158,319 164,319 168,319 169,319 170,319 175,319 229,319 240,319 242,319 263,319 316,319 334,319 335,319 440,319 49,320 159,320 172,320 227,320 238,320 241,320 243,320 440,320 160,321 164,321 168,321 169,321 227,321 230,321 231,321 316,321 441,321 37,322 74,322 76,322 161,322 240,322 317,322 441,322 47,323 75,323 168,323 261,323 334,323 441,323 442,323 454,323 44,324 165,324 260,324 336,324 441,324 444,324 454,324 40,325 43,325 145,325 146,325 165,325 257,325 258,325 322,325 323,325 325,325 327,325 332,325 443,325 444,325 41,326 131,326 254,326 325,326 327,326 328,326 444,326 449,326 453,326 454,326 134,327 135,327 137,327 323,327 446,327" marker-start="url(#k5)" marker-mid="url(#k5)" marker-end="url(#k5)"/>
<polyline points="136,64 139,64 133,65 136,65 138,65 133,66 141,66 250,66 251,66 132,67 133,67 255,67 325,67 131,68 142,68 247,68 248,68 140,69 142,69 232,69 245,69 226,70 228,70 230,70 253,70 325,70 143,71 227,71 228,71 231,71 232,71 234,71 235,71 254,71 324,71 325,71 142,72 228,72 234,72 254,72 131,73 132,73 143,73 144,73 228,73 229,73 233,73 236,73 239,73 254,73 225,74 227,74 232,74 237,74 252,74 141,75 225,76 226,76 252,76 136,77 140,77 234,77 140,78 141,78 226,78 136,79 138,79 140,79 234,79 250,79 133,80 134,80 141,80 135,81 224,81 227,81 231,81 232,81 233,81 134,82 135,82 227,82 230,82 234,82 235,82 249,82 131,83 228,83 229,83 234,83 237,83 136,84 139,84 140,84 230,84 231,84 238,84 134,85 135,85 138,85 236,85 345,85 133,86 134,86 141,86 232,86 237,86 239,86 243,86 244,86 245,86 137,87 228,87 229,87 239,87 243,87 244,87 342,87 445,87 446,87 136,88 138,88 443,88 444,88 445,88 133,89 136,89 139,89 230,89 231,89 441,89 449,89 133,90 139,90 140,90 240,90 241,90 133,91 140,91 232,91 338,91 136,93 137,93 138,94 439,94 453,95 137,96 138,96 139,96 141,97 453,97 136,98 318,98 327,98 39,99 133,99 134,99 135,99 318,99 319,99 321,99 322,99 324,99 38,100 40,100 44,100 45,100 131,100 132,100 139,100 140,100 242,100 243,100 318,100 38,101 39,101 142,101 243,101 244,101 245,101 316,101 332,101 441,101 478,101 37,102 38,102 68,102 130,102 142,102 229,102 242,102 247,102 334,102 335,102 342,102 452,102 47,103 63,103 158,103 161,103 163,103 164,103 243,103 244,103 249,103 250,103 251,103 337,103 339,103 346,103 441,103 453,103 474,103 36,104 48,104 49,104 63,104 68,104 155,104 156,104 159,104 160,104 162,104 242,104 244,104 252,104 315,104 344,104 451,104 452,104 453,104 472,104 473,104 476,104 477,104 478,104 63,105 64,105 69,105 130,105 160,105 161,105 225,105 237,105 238,105 240,105 241,105 246,105 338,105 472,105 473,105 474,105 477,105 68,106 160,106 161,106 162,106 226,106 228,106 230,106 234,106 237,106 240,106 244,106 245,106 315,106 344,106 349,106 441,106 450,106 472,106 37,107 48,107 65,107 69,107 142,107 155,107 161,107 225,107 229,107 237,107 244,107 248,107 336,107 442,107 450,107 451,107 37,108 46,108 159,108 229,108 238,108 240,108 241,108 244,108 245,108 248,108 249,108 334,108 336,108 341,108 442,108 450,108 38,109 46,109 241,109 242,109 317,109 335,109 338,109 41,110 45,110 130,110 143,110 160,110 318,110 330,110 334,110 335,110 448,110 449,110 42,111 132,111 317,111 329,111 444,111 445,111 447,111 44,112 137,112 141,112 322,112 138,113 131,182 445,182 451,182 139,183 140,183 446,183 450,183 131,184 443,184 448,184 449,184 39,185 45,185 131,185 142,185 247,185 249,185 250,185 252,185 323,185 324,185 326,185 341,185 343,185 442,185 443,185 44,186 45,186 247,186 320,186 321,186 331,186 334,186 335,186 339,186 340,186 341,186 441,186 45,187 129,187 245,187 246,187 253,187 319,187 334,187 336,187 341,187 344,187 346,187 44,188 45,188 46,188 243,188 254,188 332,188 333,188 341,188 441,188 38,189 145,189 246,189 253,189 332,189 353,189 440,189 452,189 453,189 454,189 37,190 45,190 46,190 144,190 145,190 242,190 245,190 252,190 253,190 453,190 47,191 145,191 155,191 253,191 315,191 330,191 331,191 37,192 146,192 147,192 154,192 155,192 158,192 480,192 36,193 37,193 38,193 147,193 157,193 242,193 250,193 253,193 315,193 333,193 454,193 37,194 47,194 145,194 147,194 155,194 159,194 243,194 315,194 347,194 348,194 455,194 47,195 159,195 227,195 229,195 346,195 440,195 454,195 129,196 153,196 227,196 241,196 315,196 347,196 454,196 47,197 155,197 162,197 227,197 234,197 251,197 253,197 336,197 38,198 129,198 143,198 155,198 158,198 227,198 232,198 233,198 253,198 341,198 348,198 453,198 129,199 143,199 145,199 154,199 155,199 158,199 224,199 226,199 239,199 240,199 252,199 253,199 316,199 331,199 338,199 339,199 340,199 344,199 39,200 131,200 144,200 155,200 224,200 225,200 226,200 235,200 236,200 239,200 251,200 317,200 332,200 451,200 39,201 143,201 158,201 229,201 251,201 319,201 321,201 328,201 452,201 158,202 235,202 237,202 319,202 320,202 321,202 323,202 326,202 43,203 45,203 156,203 226,203 321,203 325,203 326,203 328,203 41,204 224,204 225,204 450,204 41,205 43,205 45,205 143,205 444,205 445,205 448,205 449,205 41,206 42,206 43,206 44,206 131,206 141,206 225,206 227,206 41,207 132,207 134,207 225,207 250,207 43,208 142,208 235,208 251,208 40,210 131,210 141,210 142,210 229,210 133,211 224,211 229,211 250,211 133,212 142,212 227,212 228,212 235,212 236,212 233,213 250,213 230,214 232,214 233,214 234,214 229,215 231,215 229,216 230,216 237,216 133,217 136,217 140,217 140,218 141,218 137,219 138,219 244,219 137,220 139,220 241,220 242,220 352,294 354,294 448,294 449,294 346,295 348,295 349,295 352,295 452,295 344,296 345,296 354,296 355,296 445,296 446,296 350,297 354,297 343,298 443,298 452,298 159,299 453,299 453,300 454,300 350,301 441,301 455,302 139,303 162,303 165,303 442,303 454,303 141,304 165,304 134,305 136,305 137,305 146,305 166,305 333,305 454,305 455,305 132,306 145,306 162,306 330,306 333,306 334,306 346,306 347,306 348,306 349,306 441,306 135,307 142,307 157,307 163,307 171,307 333,307 344,307 455,307 132,308 142,308 143,308 148,308 157,308 332,308 337,308 342,308 441,308 454,308 137,309 147,309 163,309 165,309 331,309 332,309 339,309 341,309 132,310 157,310 162,310 163,310 341,310 442,310 134,311 145,311 161,311 165,311 167,311 254,311 330,311 337,311 339,311 453,311 131,312 145,312 166,312 167,312 171,312 249,312 257,312 323,312 327,312 328,312 336,312 338,312 452,312 453,312 454,312 44,313 145,313 160,313 169,313 170,313 230,313 259,313 323,313 329,313 334,313 336,313 443,313 453,313 44,314 161,314 164,314 165,314 166,314 238,314 246,314 320,314 321,314 332,314 334,314 47,315 75,315 129,315 146,315 159,315 162,315 166,315 229,315 238,315 319,315 47,316 48,316 161,316 163,316 164,316 166,316 168,316 172,316 173,316 230,316 232,316 238,316 261,316 333,316 443,316 162,317 164,317 165,317 167,317 229,317 230,317 241,317 36,318 161,318 167,318 169,318 243,318 441,318 454,318 36,319 50,319 73,319 148,319 161,319 238,319 243,319 454,319 36,320 37,320 146,320 165,320 166,320 169,320 170,320 233,320 239,320 244,320 316,320 333,320 334,320 335,320 336,320 441,320 37,321 146,321 162,321 163,321 236,321 237,321 238,321 240,321 244,321 261,321 454,321 75,322 162,322 163,322 168,322 233,322 238,322 239,322 245,322 328,322 442,322 41,323 42,323 46,323 48,323 129,323 146,323 260,323 318,323 42,324 43,324 146,324 246,324 247,324 443,324 256,325 321,325 328,325 446,325 453,325 132,326 133,326 139,326 250,326 252,326 253,326 255,326 323,326 324,326 329,326 450,326 452,326" marker-start="url(#k6)" marker-mid="url(#k6)" marker-end="url(#k6)"/>
<polyline points="135,64 138,64 134,66 138,66 140,66 255,66 142,67 133,68 254,68 255,68 226,69 227,69 252,70 226,71 233,71 131,72 225,72 227,72 230,72 231,72 233,72 237,73 241,73 252,73 141,74 231,74 238,74 134,75 227,75 230,75 231,75 233,75 133,76 135,76 234,76 133,77 139,77 250,77 133,78 227,78 134,79 139,79 141,79 236,79 140,80 227,80 229,80 230,80 231,80 232,80 233,80 249,80 134,81 230,81 141,82 229,82 231,82 236,82 248,82 135,83 138,83 227,83 231,83 245,83 135,84 138,84 227,84 244,84 247,84 139,85 230,85 237,85 246,85 137,86 139,86 238,86 240,86 241,86 138,87 134,88 135,88 137,88 446,88 447,88 450,88 134,89 450,89 134,90 449,90 451,91 136,92 453,92 138,93 453,93 452,97 329,98 454,98 138,99 320,99 454,99 42,100 316,100 320,100 440,100 317,101 452,101 67,102 243,102 244,102 245,102 330,102 331,102 339,102 341,102 37,103 64,103 68,103 129,103 143,103 246,103 247,103 341,103 343,103 452,103 47,104 161,104 164,104 225,104 226,104 227,104 233,104 234,104 243,104 247,104 249,104 251,104 343,104 441,104 48,105 66,105 144,105 156,105 159,105 162,105 164,105 226,105 227,105 230,105 234,105 242,105 243,105 245,105 315,105 344,105 349,105 37,106 48,106 64,106 66,106 69,106 159,106 163,106 224,106 225,106 227,106 229,106 241,106 242,106 343,106 442,106 66,107 129,107 143,107 144,107 159,107 240,107 241,107 315,107 332,107 337,107 444,107 48,108 144,108 157,108 237,108 242,108 243,108 315,108 332,108 333,108 337,108 338,108 339,108 340,108 444,108 39,109 333,109 336,109 38,110 44,110 43,111 45,111 327,111 136,112 318,112 323,112 324,112 326,112 328,112 325,113 326,113 448,182 449,182 450,182 133,183 138,183 444,183 447,183 132,184 133,184 134,184 140,184 441,184 442,184 41,185 130,185 246,185 345,185 441,185 39,186 40,186 131,186 245,186 246,186 252,186 323,186 325,186 338,186 346,186 442,186 443,186 451,186 142,187 243,187 247,187 322,187 328,187 329,187 331,187 335,187 337,187 441,187 451,187 40,188 129,188 246,188 249,188 250,188 253,188 344,188 452,188 129,189 144,189 250,189 254,189 318,189 330,189 344,189 47,190 243,190 316,190 317,190 37,191 143,191 144,191 243,191 244,191 245,191 347,191 38,192 39,192 145,192 243,192 334,192 348,192 440,192 453,192 47,193 129,193 155,193 252,193 347,193 348,193 452,193 38,194 144,194 454,194 36,195 155,195 252,195 316,195 338,195 37,196 332,196 337,196 339,196 340,196 348,196 440,196 45,197 129,197 143,197 153,197 235,197 252,197 339,197 345,197 347,197 348,197 452,197 45,198 153,198 332,198 440,198 452,198 131,199 133,199 229,199 231,199 232,199 233,199 241,199 251,199 317,199 320,199 343,199 320,200 338,200 440,200 38,201 40,201 41,201 42,201 131,201 228,201 235,201 322,201 327,201 451,201 39,202 132,202 157,202 225,202 238,202 441,202 451,202 40,203 42,203 131,203 157,203 327,203 443,203 449,203 450,203 451,203 228,204 235,204 251,204 449,204 44,205 141,205 142,205 224,205 225,205 233,205 236,205 250,205 442,205 132,206 142,206 133,207 142,207 234,207 235,207 237,207 249,207 141,208 226,208 228,208 234,208 135,209 141,209 233,209 235,209 132,210 133,210 227,210 232,210 140,211 141,211 227,211 237,211 249,211 251,211 140,212 229,212 230,212 250,212 141,213 229,213 230,213 232,213 134,214 139,214 141,214 231,214 132,215 141,215 142,215 230,215 133,216 239,216 248,216 249,216 137,217 138,217 247,217 248,217 139,218 242,218 139,219 241,219 243,219 246,219 138,220 245,220 353,294 353,295 448,295 449,295 346,296 350,296 351,296 352,296 353,296 448,296 449,296 450,296 452,296 351,297 444,297 448,297 449,297 453,298 350,299 443,299 340,300 341,300 342,300 344,300 442,300 338,301 340,301 454,301 348,302 349,302 442,302 140,303 348,303 143,304 144,304 334,304 335,304 345,304 454,304 139,305 141,305 144,305 145,305 334,305 344,305 345,305 346,305 348,305 442,305 133,306 134,306 163,306 345,306 454,306 455,306 132,307 148,307 334,307 342,307 441,307 136,308 138,308 144,308 147,308 336,308 442,308 135,309 145,309 164,309 340,309 442,309 444,309 133,310 135,310 136,310 144,310 165,310 166,310 167,310 254,310 334,310 337,310 338,310 133,311 142,311 164,311 250,311 336,311 338,311 452,311 132,312 135,312 255,312 332,312 333,312 334,312 161,313 246,313 258,313 324,313 452,313 41,314 42,314 45,314 131,314 162,314 163,314 169,314 319,314 322,314 328,314 329,314 330,314 40,315 46,315 168,315 235,315 236,315 322,315 332,315 333,315 452,315 74,316 146,316 160,316 170,316 171,316 239,316 245,316 37,317 48,317 74,317 145,317 166,317 168,317 231,317 237,317 240,317 319,317 333,317 146,318 147,318 159,318 166,318 168,318 237,318 238,318 244,318 317,318 77,319 159,319 165,319 166,319 230,319 239,319 244,319 48,320 73,320 77,320 160,320 230,320 231,320 236,320 237,320 240,320 245,320 262,320 453,320 49,321 76,321 129,321 235,321 239,321 245,321 318,321 333,321 129,322 234,322 260,322 318,322 333,322 454,322 247,323 333,323 452,323 41,324 145,324 248,324 259,324 319,324 322,324 324,324 331,324 332,324 442,324 453,324 41,325 139,325 143,325 255,325 324,325 331,325 445,325 134,326 445,326 448,326 451,326 447,327" marker-start="url(#k7)" marker-mid="url(#k7)" marker-end="url(#k7)"/>
<polyline points="134,65 135,65 254,65 249,67 132,68 249,68 132,69 133,69 139,69 141,69 246,69 254,69 132,70 140,70 142,70 227,70 142,71 242,71 243,71 141,72 229,72 232,72 225,73 227,73 230,73 232,73 240,73 253,73 133,74 229,74 230,74 253,74 132,75 135,75 232,75 237,75 251,75 134,76 231,76 237,76 251,76 134,77 135,77 138,77 227,77 228,77 233,77 236,77 136,78 138,78 139,78 231,78 232,78 233,78 135,79 228,79 230,79 231,79 232,79 233,79 229,81 249,81 228,82 238,83 247,83 246,84 238,85 239,85 244,85 138,86 135,89 440,90 450,90 452,92 453,94 452,96 137,98 138,98 328,98 452,98 329,99 41,100 138,100 326,100 131,101 318,101 319,101 330,101 331,101 46,102 249,102 38,103 65,103 66,103 67,103 130,103 248,103 332,103 336,103 340,103 37,104 66,104 130,104 143,104 163,104 230,104 248,104 316,104 337,104 338,104 65,105 143,105 157,105 163,105 228,105 229,105 244,105 247,105 249,105 334,105 343,105 442,105 448,105 449,105 46,106 130,106 143,106 156,106 158,106 247,106 248,106 334,106 341,106 443,106 448,106 46,107 156,107 157,107 158,107 242,107 243,107 334,107 341,107 443,107 143,108 158,108 331,108 342,108 443,108 41,109 130,109 143,109 318,109 444,109 449,109 39,110 42,110 43,110 444,110 446,110 447,110 44,111 133,111 141,111 318,111 320,111 328,111 134,112 135,112 138,112 140,112 325,112 134,183 137,183 445,183 139,184 444,184 447,184 251,185 342,185 344,185 449,185 41,186 130,186 141,186 248,186 324,186 342,186 343,186 344,186 345,186 40,187 41,187 130,187 244,187 249,187 250,187 321,187 323,187 324,187 326,187 327,187 330,187 339,187 340,187 342,187 343,187 449,187 42,188 43,188 141,188 142,188 319,188 322,188 331,188 334,188 335,188 342,188 343,188 450,188 451,188 40,189 41,189 44,189 141,189 142,189 143,189 244,189 329,189 333,189 38,190 40,190 44,190 142,190 244,190 329,190 332,190 333,190 334,190 344,190 440,190 39,191 40,191 252,191 316,191 332,191 333,191 334,191 341,191 452,191 129,192 144,192 248,192 252,192 253,192 254,192 316,192 332,192 333,192 41,193 46,193 144,193 244,193 245,193 251,193 316,193 336,193 337,193 339,193 453,193 46,194 316,194 346,194 440,194 453,194 37,195 45,195 46,195 129,195 143,195 332,195 337,195 339,195 345,195 453,195 45,196 46,196 47,196 143,196 251,196 252,196 316,196 334,196 335,196 336,196 341,196 39,197 230,197 333,197 337,197 340,197 440,197 453,197 39,198 231,198 241,198 316,198 317,198 328,198 338,198 340,198 342,198 344,198 39,199 42,199 227,199 228,199 328,199 440,199 44,200 132,200 143,200 154,200 228,200 229,200 234,200 318,200 330,200 441,200 43,201 44,201 132,201 225,201 226,201 230,201 239,201 320,201 325,201 326,201 441,201 448,201 449,201 42,202 43,202 133,202 141,202 142,202 226,202 239,202 251,202 324,202 325,202 327,202 41,203 141,203 142,203 236,203 251,203 442,203 45,204 131,204 142,204 226,204 227,204 236,204 442,204 443,204 444,204 445,204 446,204 448,204 132,205 226,205 228,205 234,205 235,205 237,205 443,205 133,206 135,206 226,206 231,206 233,206 238,206 135,207 140,207 141,207 231,207 236,207 134,208 231,208 238,208 250,208 134,209 234,209 237,209 135,210 140,210 230,210 231,210 234,210 237,210 142,211 230,211 139,212 141,212 233,212 138,213 139,213 231,213 236,213 237,213 249,213 132,214 137,214 140,214 249,214 133,215 137,215 240,215 249,215 134,216 135,216 136,216 137,216 140,216 141,216 240,216 247,216 243,217 244,217 137,218 138,218 243,218 246,218 242,219 245,219 347,296 348,296 349,296 346,297 349,297 445,297 446,297 447,297 450,297 344,298 345,298 346,298 351,298 451,298 448,299 452,299 339,300 349,300 443,300 452,300 339,301 442,301 443,301 453,301 336,302 337,302 338,302 454,302 336,303 337,303 338,303 339,303 140,304 336,304 337,304 347,304 442,304 143,305 335,305 336,305 347,305 141,306 142,306 144,306 342,306 343,306 344,306 442,306 133,307 134,307 136,307 138,307 143,307 144,307 343,307 442,307 134,308 135,308 453,308 132,309 134,309 143,309 144,309 338,309 443,309 453,309 134,310 138,310 139,310 142,310 164,310 333,310 336,310 443,310 452,310 140,311 144,311 333,311 443,311 134,312 137,312 141,312 144,312 251,312 132,313 247,313 248,313 257,313 327,313 328,313 333,313 444,313 445,313 43,314 247,314 259,314 323,314 325,314 326,314 327,314 331,314 333,314 443,314 44,315 163,315 164,315 230,315 245,315 260,315 320,315 321,315 330,315 453,315 46,316 75,316 143,316 145,316 167,316 233,316 235,316 236,316 260,316 324,316 332,316 453,316 38,317 47,317 76,317 129,317 146,317 160,317 161,317 236,317 238,317 245,317 246,317 261,317 453,317 49,318 74,318 145,318 165,318 229,318 230,318 236,318 239,318 442,318 37,319 49,319 146,319 160,319 231,319 233,319 237,319 245,319 261,319 317,319 333,319 441,319 38,320 129,320 232,320 234,320 261,320 317,320 442,320 74,321 75,321 130,321 232,321 233,321 317,321 442,321 453,321 38,322 40,322 47,322 48,322 320,322 43,323 145,323 259,323 320,323 321,323 443,323 444,323 453,323 249,324 131,325 133,325 138,325 250,325 254,325 329,325 330,325 451,325 452,325 135,326 136,326 137,326 138,326 251,326 446,326" marker-start="url(#k8)" marker-mid="url(#k8)" marker-end="url(#k8)"/>
<polyline points="253,65 135,66 253,66 254,66 134,67 139,67 141,67 250,67 254,67 140,68 141,68 134,69 247,69 249,69 133,70 141,70 245,70 132,71 253,71 132,72 242,72 253,72 133,73 231,73 134,74 137,74 140,74 228,74 239,74 133,75 137,75 140,75 137,76 138,76 139,76 140,76 228,76 230,76 232,76 233,76 232,77 134,78 135,78 228,78 230,78 236,78 249,78 229,79 249,79 228,80 237,80 248,80 228,81 247,81 248,81 247,82 239,84 245,84 240,85 242,85 243,85 245,85 442,89 443,89 448,89 440,91 440,94 440,95 451,98 453,98 327,99 328,99 452,99 453,99 43,100 321,100 322,100 323,100 329,100 441,100 442,100 452,100 40,101 45,101 46,101 132,101 141,101 451,101 39,102 141,102 248,102 316,102 340,102 450,102 46,103 316,103 317,103 330,103 331,103 333,103 334,103 450,103 451,103 38,104 64,104 65,104 333,104 334,104 339,104 340,104 341,104 342,104 450,104 37,105 46,105 47,105 158,105 248,105 316,105 337,105 339,105 340,105 341,105 441,105 450,105 65,106 157,106 335,106 336,106 337,106 449,106 316,107 333,107 335,107 342,107 445,107 38,108 130,108 316,108 335,108 445,108 449,108 44,109 142,109 330,109 445,109 447,109 131,110 132,110 142,110 323,110 328,110 329,110 445,110 140,111 319,111 321,111 322,111 323,111 324,111 325,111 139,112 135,183 446,184 132,185 133,185 134,185 140,185 444,185 445,185 448,185 249,186 250,186 449,186 141,187 252,187 320,187 325,187 442,187 448,187 450,187 130,188 244,188 247,188 248,188 251,188 252,188 321,188 323,188 328,188 329,188 330,188 337,188 339,188 442,188 39,189 247,189 249,189 251,189 319,189 334,189 338,189 339,189 343,189 345,189 346,189 450,189 451,189 39,190 41,190 129,190 143,190 251,190 318,190 335,190 336,190 451,190 45,191 46,191 129,191 248,191 251,191 317,191 335,191 336,191 441,191 46,192 250,192 331,192 335,192 336,192 347,192 452,192 39,193 43,193 243,193 249,193 334,193 342,193 346,193 440,193 40,194 129,194 247,194 251,194 332,194 345,194 142,195 243,195 247,195 250,195 251,195 452,195 38,196 141,196 142,196 242,196 244,196 250,196 333,196 338,196 345,196 452,196 453,196 142,197 242,197 316,197 332,197 341,197 230,198 329,198 331,198 339,198 441,198 443,198 40,199 44,199 130,199 132,199 142,199 230,199 318,199 321,199 330,199 441,199 451,199 41,200 42,200 43,200 227,200 230,200 231,200 233,200 240,200 241,200 319,200 321,200 327,200 329,200 442,200 450,200 133,201 227,201 231,201 232,201 234,201 324,201 450,201 40,202 41,202 229,202 234,202 442,202 448,202 449,202 450,202 132,203 227,203 235,203 237,203 240,203 444,203 141,204 237,204 250,204 447,204 134,205 135,205 139,205 227,205 229,205 230,205 231,205 249,205 134,206 139,206 228,206 230,206 249,206 227,207 228,207 229,207 230,207 233,207 238,207 140,208 227,208 229,208 230,208 233,208 249,208 136,209 137,209 139,209 140,209 227,209 228,209 230,209 231,209 232,209 238,209 137,210 138,210 139,210 228,210 233,210 139,211 228,211 232,211 233,211 238,211 134,212 136,212 138,212 231,212 232,212 237,212 249,212 133,213 134,213 137,213 138,214 238,214 247,214 248,214 134,215 135,215 136,215 140,215 239,215 247,215 248,215 139,216 245,216 246,216 240,217 241,217 242,217 244,218 347,297 350,298 444,298 448,298 449,298 343,299 349,299 449,299 451,299 343,300 444,300 341,301 342,301 348,301 349,301 444,301 452,301 339,302 340,302 443,302 453,302 340,303 344,303 443,303 346,304 140,305 338,305 343,305 453,305 136,306 138,306 140,306 335,306 335,307 337,307 453,307 133,308 137,308 141,308 333,308 334,308 335,308 338,308 339,308 341,308 443,308 133,309 138,309 139,309 141,309 142,309 333,309 337,309 137,310 140,310 141,310 143,310 335,310 444,310 136,311 139,311 143,311 444,311 445,311 451,311 133,312 136,312 139,312 140,312 142,312 143,312 250,312 254,312 444,312 445,312 446,312 450,312 451,312 133,313 143,313 144,313 447,313 130,314 144,314 324,314 444,314 447,314 45,315 145,315 167,315 323,315 331,315 444,315 451,315 129,316 320,316 39,317 46,317 232,317 239,317 320,317 443,317 37,318 129,318 160,318 231,318 233,318 245,318 261,318 318,318 319,318 333,318 38,319 48,319 74,319 129,319 232,319 234,319 236,319 319,319 442,319 443,319 452,319 453,319 39,320 76,320 235,320 318,320 38,321 48,321 234,321 260,321 319,321 320,321 331,321 46,322 145,322 247,322 321,322 329,322 453,322 45,323 130,323 144,323 323,323 324,323 332,323 451,323 131,324 133,324 139,324 258,324 325,324 329,324 330,324 445,324 446,324 452,324 142,325 252,325 253,325 447,325 447,326" marker-start="url(#k9)" marker-mid="url(#k9)" marker-end="url(#k9)"/>
<polyline points="136,66 137,66 252,66 135,67 136,67 137,67 140,67 134,68 138,68 139,68 250,68 248,69 253,69 134,70 139,70 249,70 138,71 140,71 141,71 244,71 252,71 140,72 252,72 140,73 242,73 251,73 241,74 251,74 138,75 139,75 228,75 229,75 136,76 229,76 250,76 229,77 237,77 229,78 237,79 237,82 245,82 244,83 246,83 240,84 241,84 241,85 444,89 447,89 441,90 441,91 450,91 440,92 451,92 440,93 452,93 452,94 452,95 440,96 440,97 440,98 136,99 137,99 440,99 451,99 133,100 134,100 135,100 328,100 451,100 41,101 42,101 44,101 329,101 40,102 45,102 131,102 329,102 451,102 39,103 131,103 142,103 335,103 39,104 46,104 131,104 142,104 317,104 449,104 38,105 39,105 333,105 335,105 342,105 443,105 38,106 142,106 316,106 338,106 342,106 444,106 38,107 329,107 331,107 338,107 448,107 449,107 142,108 317,108 448,108 45,109 446,109 448,109 319,110 324,110 325,110 326,110 327,110 136,183 135,184 137,184 138,184 445,184 139,185 132,186 134,186 251,186 444,186 445,186 446,186 447,186 448,186 131,187 248,187 338,187 320,188 324,188 327,188 338,188 340,188 42,189 43,189 130,189 248,189 320,189 321,189 322,189 324,189 328,189 335,189 336,189 337,189 342,189 441,189 449,189 43,190 141,190 246,190 250,190 339,190 341,190 342,190 343,190 346,190 441,190 38,191 44,191 141,191 142,191 246,191 249,191 318,191 340,191 344,191 345,191 346,191 40,192 43,192 45,192 143,192 246,192 247,192 249,192 251,192 317,192 318,192 337,192 345,192 346,192 441,192 451,192 40,193 45,193 331,193 335,193 338,193 343,193 345,193 441,193 39,194 41,194 44,194 45,194 143,194 244,194 250,194 333,194 334,194 337,194 338,194 339,194 343,194 344,194 452,194 38,195 40,195 41,195 44,195 244,195 248,195 249,195 331,195 333,195 334,195 336,195 340,195 341,195 343,195 344,195 39,196 44,196 130,196 243,196 249,196 317,196 329,196 330,196 331,196 342,196 343,196 450,196 41,197 44,197 243,197 250,197 317,197 318,197 328,197 329,197 330,197 331,197 338,197 342,197 343,197 441,197 40,198 41,198 44,198 130,198 132,198 142,198 243,198 250,198 318,198 327,198 330,198 343,198 442,198 450,198 451,198 41,199 43,199 242,199 319,199 329,199 442,199 443,199 133,200 142,200 232,200 242,200 322,200 324,200 325,200 443,200 449,200 142,201 233,201 250,201 323,201 442,201 444,201 445,201 134,202 227,202 228,202 230,202 231,202 232,202 233,202 250,202 443,202 444,202 133,203 140,203 230,203 232,203 238,203 239,203 445,203 448,203 132,204 134,204 135,204 140,204 229,204 231,204 232,204 234,204 238,204 248,204 249,204 133,205 232,205 238,205 229,206 232,206 138,207 139,207 226,207 232,207 135,208 232,208 138,209 229,209 249,209 134,210 136,210 249,210 134,211 136,211 137,211 138,211 231,211 135,212 137,212 136,213 248,213 133,214 135,214 136,214 239,214 139,215 138,216 241,216 244,216 245,217 246,217 245,218 348,297 347,298 349,298 445,298 446,298 447,298 450,298 344,299 444,299 450,299 345,300 346,300 348,300 448,300 449,300 450,300 451,300 343,301 347,301 341,302 347,302 444,302 347,303 452,303 453,303 338,304 343,304 443,304 453,304 337,305 339,305 342,305 443,305 137,306 139,306 143,306 338,306 339,306 453,306 137,307 141,307 336,307 339,307 340,307 341,307 443,307 444,307 139,308 340,308 444,308 452,308 140,309 334,309 335,309 336,309 450,309 452,309 450,310 451,310 137,311 138,311 446,311 138,312 252,312 253,312 447,312 137,313 138,313 139,313 141,313 142,313 249,313 256,313 446,313 143,314 248,314 445,314 451,314 41,315 42,315 43,315 143,315 246,315 259,315 325,315 326,315 328,315 329,315 445,315 447,315 448,315 40,316 142,316 144,316 246,316 322,316 325,316 326,316 444,316 75,317 143,317 144,317 233,317 234,317 235,317 326,317 332,317 38,318 40,318 48,318 76,318 232,318 320,318 443,318 453,318 39,319 47,319 76,319 235,319 318,319 320,319 330,319 74,320 75,320 145,320 260,320 319,320 322,320 332,320 443,320 47,321 145,321 246,321 321,321 322,321 332,321 443,321 39,322 41,322 130,322 143,322 259,322 319,322 327,322 331,322 332,322 443,322 451,322 452,322 44,323 248,323 319,323 322,323 328,323 329,323 331,323 132,324 138,324 141,324 143,324 255,324 256,324 257,324 326,324 328,324 451,324 132,325 134,325 135,325 136,325 140,325 141,325 251,325 448,325 450,325" marker-start="url(#k10)" marker-mid="url(#k10)" marker-end="url(#k10)"/>
<polyline points="138,67 251,67 253,67 135,68 136,68 137,68 253,68 135,69 136,69 138,69 252,69 135,70 136,70 137,70 138,70 247,70 251,70 133,71 137,71 139,71 133,72 134,72 135,72 137,72 138,72 139,72 243,72 134,73 137,73 139,73 135,74 136,74 138,74 139,74 240,74 242,74 250,74 136,75 238,75 239,75 250,75 230,77 231,77 238,77 249,77 237,78 248,79 238,80 247,80 237,81 238,82 246,82 239,83 240,83 242,84 243,84 445,89 446,89 442,90 444,90 448,90 449,91 441,92 450,92 451,97 441,99 137,100 324,100 325,100 327,100 133,101 139,101 140,101 320,101 328,101 442,101 450,101 41,102 132,102 317,102 319,102 442,102 45,103 141,103 319,103 329,103 442,103 319,104 330,104 331,104 332,104 335,104 336,104 442,104 448,104 131,105 142,105 330,105 331,105 332,105 336,105 444,105 447,105 39,106 44,106 131,106 331,106 332,106 333,106 339,106 340,106 445,106 446,106 447,106 45,107 130,107 141,107 317,107 330,107 339,107 340,107 447,107 39,108 40,108 45,108 141,108 329,108 330,108 446,108 447,108 42,109 43,109 131,109 329,109 133,110 140,110 141,110 322,110 134,111 135,111 136,111 137,111 139,111 136,184 446,185 447,185 133,186 140,186 140,187 251,187 443,187 446,187 447,187 131,188 325,188 326,188 444,188 448,188 449,188 323,189 340,189 341,189 248,190 249,190 319,190 328,190 337,190 338,190 340,190 345,190 450,190 41,191 43,191 247,191 250,191 320,191 328,191 329,191 337,191 339,191 342,191 343,191 451,191 41,192 42,192 44,192 330,192 338,192 339,192 340,192 341,192 342,192 343,192 344,192 42,193 44,193 143,193 246,193 247,193 248,193 317,193 340,193 341,193 344,193 451,193 43,194 130,194 245,194 246,194 248,194 249,194 317,194 328,194 329,194 330,194 331,194 335,194 336,194 340,194 342,194 451,194 39,195 141,195 246,195 317,195 329,195 330,195 335,195 342,195 441,195 451,195 40,196 41,196 246,196 247,196 248,196 318,196 344,196 441,196 451,196 40,197 130,197 141,197 327,197 344,197 443,197 450,197 451,197 42,198 43,198 131,198 133,198 141,198 242,198 319,198 320,198 444,198 141,199 244,199 250,199 322,199 327,199 450,199 141,200 250,200 323,200 326,200 444,200 448,200 141,201 240,201 241,201 443,201 446,201 140,202 240,202 445,202 447,202 134,203 228,203 229,203 231,203 233,203 234,203 248,203 249,203 250,203 446,203 447,203 133,204 139,204 230,204 233,204 239,204 240,204 241,204 136,205 137,205 138,205 248,205 136,206 137,206 138,206 239,206 248,207 136,208 137,208 138,208 139,208 239,208 240,208 248,208 239,209 247,209 248,209 238,210 135,211 238,212 239,212 248,212 135,213 238,213 239,213 240,213 247,213 240,214 138,215 241,215 246,215 242,216 243,216 348,298 345,299 346,299 348,299 445,299 446,299 447,299 347,300 445,300 344,301 445,301 450,301 451,301 342,302 346,302 452,302 341,303 343,303 345,303 346,303 444,303 339,304 340,304 342,304 450,304 451,304 452,304 340,305 341,305 444,305 336,306 337,306 341,306 443,306 444,306 452,306 139,307 338,307 451,307 452,307 140,308 451,308 445,309 451,309 445,310 449,310 450,311 134,313 135,313 136,313 448,313 451,313 132,314 133,314 141,314 142,314 258,314 446,314 448,314 449,314 130,315 131,315 134,315 142,315 144,315 247,315 324,315 327,315 446,315 42,316 45,316 321,316 323,316 328,316 330,316 331,316 445,316 451,316 452,316 40,317 130,317 131,317 260,317 321,317 324,317 325,317 327,317 328,317 444,317 39,318 47,318 75,318 234,318 235,318 246,318 321,318 322,318 329,318 332,318 452,318 75,319 145,319 260,319 321,319 329,319 332,319 43,320 47,320 130,320 246,320 247,320 320,320 321,320 329,320 330,320 331,320 444,320 445,320 452,320 39,321 40,321 46,321 247,321 328,321 329,321 330,321 444,321 452,321 42,322 43,322 45,322 142,322 144,322 322,322 330,322 444,322 143,323 258,323 325,323 330,323 445,323 134,324 140,324 142,324 250,324 253,324 327,324 447,324 450,324 137,325 449,325" marker-start="url(#k11)" marker-mid="url(#k11)" marker-end="url(#k11)"/>
<polyline points="252,67 251,68 252,68 137,69 250,69 251,69 246,70 248,70 250,70 134,71 135,71 136,71 245,71 250,71 251,71 136,72 244,72 245,72 251,72 135,73 136,73 138,73 243,73 250,73 240,75 238,76 239,76 249,76 239,77 238,78 247,78 248,78 238,79 238,81 246,81 239,82 244,82 241,83 242,83 443,90 442,91 442,92 449,92 441,93 451,93 441,94 451,94 441,95 451,95 451,96 441,98 450,98 442,99 450,99 136,100 443,100 450,100 43,101 138,101 321,101 322,101 323,101 326,101 327,101 42,102 43,102 44,102 133,102 140,102 318,102 321,102 328,102 444,102 449,102 40,103 41,103 42,103 43,103 44,103 132,103 318,103 447,103 449,103 44,104 45,104 318,104 329,104 443,104 447,104 44,105 45,105 317,105 445,105 446,105 43,106 45,106 317,106 39,107 41,107 44,107 328,107 446,107 41,108 42,108 43,108 44,108 131,108 318,108 328,108 132,109 141,109 319,109 323,109 327,109 328,109 320,110 321,110 138,111 135,185 136,185 137,185 138,185 135,186 132,187 133,187 134,187 444,187 445,187 132,188 133,188 140,188 443,188 445,188 446,188 447,188 131,189 140,189 325,189 327,189 442,189 444,189 445,189 446,189 448,189 42,190 130,190 247,190 320,190 321,190 322,190 323,190 324,190 327,190 442,190 449,190 42,191 130,191 131,191 140,191 319,191 325,191 327,191 338,191 442,191 450,191 130,192 138,192 140,192 141,192 142,192 319,192 320,192 321,192 327,192 328,192 329,192 442,192 450,192 130,193 131,193 142,193 318,193 319,193 328,193 329,193 330,193 442,193 443,193 42,194 131,194 141,194 142,194 318,194 319,194 323,194 326,194 341,194 441,194 42,195 43,195 130,195 245,195 318,195 449,195 450,195 42,196 43,196 131,196 245,196 319,196 328,196 442,196 443,196 449,196 42,197 43,197 244,197 246,197 249,197 319,197 442,197 444,197 449,197 140,198 244,198 245,198 249,198 321,198 325,198 326,198 448,198 449,198 134,199 140,199 243,199 245,199 247,199 323,199 324,199 325,199 326,199 444,199 446,199 447,199 449,199 134,200 140,200 243,200 244,200 245,200 445,200 446,200 447,200 134,201 140,201 242,201 243,201 244,201 245,201 247,201 248,201 249,201 447,201 135,202 241,202 243,202 247,202 248,202 249,202 446,202 135,203 136,203 139,203 241,203 136,204 138,204 247,204 239,205 240,205 241,205 246,206 247,206 248,206 136,207 137,207 239,207 240,207 241,208 247,208 240,209 246,209 239,210 240,210 246,210 247,210 248,210 239,211 248,211 240,212 247,212 246,214 244,215 245,215 347,299 446,300 447,300 345,301 346,301 449,301 343,302 344,302 345,302 445,302 450,302 451,302 342,303 445,303 450,303 451,303 341,304 444,304 451,305 452,305 340,306 445,306 447,306 451,306 140,307 445,307 447,307 445,308 446,308 447,308 448,308 449,308 450,308 447,309 449,309 446,310 447,310 448,310 447,311 448,311 449,311 448,312 449,312 140,313 250,313 251,313 254,313 255,313 449,313 450,313 134,314 249,314 250,314 257,314 450,314 132,315 133,315 248,315 258,315 449,315 450,315 41,316 43,316 44,316 130,316 131,316 134,316 247,316 259,316 327,316 329,316 446,316 41,317 42,317 43,317 45,317 142,317 247,317 322,317 323,317 329,317 330,317 331,317 445,317 451,317 452,317 41,318 46,318 130,318 131,318 144,318 260,318 323,318 325,318 326,318 327,318 328,318 330,318 331,318 444,318 445,318 40,319 46,319 130,319 131,319 246,319 322,319 331,319 444,319 445,319 446,319 451,319 40,320 46,320 259,320 323,320 328,320 451,320 41,321 43,321 45,321 131,321 143,321 144,321 259,321 323,321 327,321 451,321 44,322 131,322 132,322 248,322 258,322 323,322 324,322 326,322 445,322 131,323 132,323 133,323 141,323 142,323 249,323 256,323 257,323 326,323 327,323 446,323 450,323 135,324 136,324 137,324 251,324 252,324 254,324 449,324" marker-start="url(#k12)" marker-mid="url(#k12)" marker-end="url(#k12)"/>
<polyline points="246,71 247,71 248,71 249,71 248,72 249,72 250,72 244,73 245,73 248,73 249,73 243,74 247,74 249,74 241,75 242,75 247,75 248,75 249,75 240,76 241,76 247,76 248,76 240,77 241,77 247,77 248,77 239,78 240,78 246,78 239,79 240,79 246,79 247,79 239,80 240,80 246,80 239,81 240,81 242,81 243,81 244,81 245,81 240,82 241,82 242,82 243,82 243,83 445,90 446,90 447,90 443,91 444,91 445,91 446,91 447,91 448,91 443,92 444,92 445,92 446,92 447,92 448,92 442,93 443,93 448,93 449,93 450,93 442,94 450,94 442,95 450,95 441,96 450,96 441,97 442,97 450,97 442,98 443,99 449,99 448,100 449,100 134,101 135,101 136,101 137,101 324,101 325,101 443,101 444,101 447,101 448,101 449,101 134,102 139,102 320,102 322,102 323,102 324,102 325,102 326,102 327,102 443,102 445,102 446,102 447,102 448,102 133,103 140,103 320,103 321,103 322,103 327,103 328,103 443,103 444,103 445,103 446,103 448,103 40,104 41,104 42,104 43,104 132,104 141,104 320,104 322,104 328,104 444,104 445,104 446,104 40,105 41,105 42,105 43,105 132,105 141,105 318,105 319,105 320,105 326,105 329,105 40,106 41,106 42,106 141,106 318,106 319,106 328,106 329,106 330,106 40,107 42,107 43,107 131,107 318,107 319,107 132,108 133,108 140,108 319,108 320,108 321,108 323,108 324,108 327,108 133,109 140,109 320,109 321,109 322,109 324,109 325,109 326,109 134,110 135,110 136,110 137,110 138,110 139,110 136,186 137,186 138,186 139,186 135,187 136,187 138,187 139,187 134,188 135,188 136,188 137,188 138,188 139,188 132,189 133,189 134,189 136,189 138,189 139,189 326,189 443,189 447,189 131,190 132,190 139,190 140,190 325,190 326,190 443,190 444,190 445,190 446,190 447,190 448,190 132,191 138,191 139,191 321,191 322,191 323,191 324,191 326,191 443,191 444,191 446,191 447,191 448,191 449,191 131,192 132,192 133,192 137,192 139,192 322,192 323,192 324,192 325,192 326,192 443,192 449,192 132,193 134,193 137,193 138,193 139,193 140,193 141,193 320,193 321,193 322,193 323,193 324,193 325,193 326,193 327,193 444,193 447,193 449,193 450,193 132,194 139,194 140,194 320,194 322,194 324,194 325,194 327,194 442,194 443,194 447,194 448,194 449,194 450,194 131,195 132,195 139,195 140,195 319,195 320,195 321,195 323,195 325,195 326,195 327,195 328,195 442,195 443,195 444,195 448,195 132,196 138,196 139,196 140,196 320,196 321,196 325,196 326,196 327,196 444,196 445,196 447,196 448,196 131,197 132,197 133,197 134,197 138,197 139,197 140,197 245,197 247,197 248,197 320,197 321,197 322,197 325,197 326,197 445,197 447,197 448,197 134,198 139,198 246,198 247,198 248,198 322,198 323,198 324,198 445,198 446,198 447,198 139,199 246,199 248,199 249,199 445,199 448,199 135,200 137,200 139,200 246,200 247,200 248,200 249,200 135,201 136,201 137,201 139,201 246,201 136,202 137,202 139,202 242,202 244,202 245,202 246,202 137,203 138,203 242,203 243,203 244,203 245,203 246,203 247,203 137,204 242,204 243,204 245,204 246,204 242,205 243,205 244,205 245,205 246,205 247,205 240,206 241,206 241,207 246,207 247,207 244,208 246,208 241,209 241,210 245,210 240,211 241,211 246,211 247,211 241,212 243,212 244,212 246,212 241,213 242,213 243,213 244,213 245,213 246,213 241,214 242,214 243,214 244,214 245,214 242,215 243,215 446,301 447,301 448,301 446,302 447,302 448,302 449,302 446,303 447,303 448,303 449,303 445,304 446,304 447,304 448,304 449,304 445,305 446,305 447,305 448,305 449,305 450,305 446,306 448,306 449,306 450,306 446,307 448,307 449,307 450,307 446,309 448,309 252,313 253,313 135,314 136,314 137,314 138,314 139,314 140,314 251,314 256,314 135,315 136,315 137,315 138,315 139,315 141,315 249,315 250,315 257,315 132,316 133,316 135,316 141,316 248,316 258,316 447,316 448,316 449,316 450,316 44,317 132,317 133,317 134,317 248,317 259,317 446,317 447,317 450,317 42,318 43,318 44,318 45,318 132,318 133,318 142,318 143,318 247,318 259,318 324,318 446,318 451,318 41,319 42,319 43,319 44,319 45,319 132,319 144,319 247,319 258,319 259,319 323,319 324,319 325,319 326,319 327,319 328,319 447,319 450,319 41,320 42,320 44,320 45,320 131,320 132,320 142,320 143,320 144,320 248,320 258,320 324,320 325,320 326,320 327,320 446,320 447,320 448,320 449,320 450,320 42,321 44,321 132,321 141,321 142,321 248,321 249,321 258,321 324,321 325,321 326,321 445,321 446,321 448,321 449,321 450,321 133,322 141,322 249,322 256,322 257,322 325,322 446,322 449,322 450,322 134,323 135,323 136,323 137,323 138,323 139,323 140,323 250,323 251,323 253,323 254,323 255,323 447,323 448,323 449,323 448,324" marker-start="url(#k13)" marker-mid="url(#k13)" marker-end="url(#k13)"/>
<polyline points="246,72 247,72 246,73 247,73 244,74 245,74 246,74 248,74 243,75 244,75 245,75 246,75 242,76 243,76 244,76 245,76 246,76 242,77 243,77 244,77 245,77 246,77 241,78 242,78 243,78 244,78 245,78 241,79 242,79 243,79 244,79 245,79 241,80 242,80 243,80 244,80 245,80 241,81 444,93 445,93 446,93 447,93 443,94 444,94 445,94 446,94 447,94 448,94 449,94 443,95 444,95 445,95 446,95 447,95 448,95 449,95 442,96 443,96 444,96 445,96 446,96 447,96 448,96 449,96 443,97 444,97 445,97 446,97 447,97 448,97 449,97 443,98 444,98 445,98 446,98 447,98 448,98 449,98 444,99 445,99 446,99 447,99 448,99 444,100 445,100 446,100 447,100 445,101 446,101 135,102 136,102 137,102 138,102 134,103 135,103 136,103 137,103 138,103 139,103 323,103 324,103 325,103 326,103 133,104 134,104 135,104 136,104 137,104 138,104 139,104 140,104 321,104 323,104 324,104 325,104 326,104 327,104 133,105 134,105 135,105 136,105 137,105 138,105 139,105 140,105 321,105 322,105 323,105 324,105 325,105 327,105 328,105 132,106 133,106 134,106 135,106 136,106 137,106 138,106 139,106 140,106 320,106 321,106 322,106 323,106 324,106 325,106 326,106 327,106 132,107 133,107 134,107 135,107 136,107 137,107 138,107 139,107 140,107 320,107 321,107 322,107 323,107 324,107 325,107 326,107 327,107 134,108 135,108 136,108 137,108 138,108 139,108 322,108 325,108 326,108 134,109 135,109 136,109 137,109 138,109 139,109 137,187 135,189 137,189 133,190 134,190 135,190 136,190 137,190 138,190 133,191 134,191 135,191 136,191 137,191 445,191 134,192 135,192 136,192 444,192 445,192 446,192 447,192 448,192 133,193 135,193 136,193 445,193 446,193 448,193 133,194 134,194 135,194 136,194 137,194 138,194 321,194 444,194 445,194 446,194 133,195 134,195 135,195 136,195 137,195 138,195 322,195 324,195 445,195 446,195 447,195 133,196 134,196 135,196 136,196 137,196 322,196 323,196 324,196 446,196 135,197 136,197 137,197 323,197 324,197 446,197 135,198 136,198 137,198 138,198 135,199 136,199 137,199 138,199 136,200 138,200 138,201 138,202 244,204 242,206 243,206 244,206 245,206 242,207 243,207 244,207 245,207 242,208 243,208 245,208 242,209 243,209 244,209 245,209 242,210 243,210 244,210 242,211 243,211 244,211 245,211 242,212 245,212 252,314 253,314 254,314 255,314 140,315 251,315 252,315 253,315 254,315 255,315 256,315 136,316 137,316 138,316 139,316 140,316 249,316 250,316 251,316 252,316 253,316 254,316 255,316 256,316 257,316 135,317 136,317 137,317 138,317 139,317 140,317 141,317 249,317 250,317 251,317 252,317 253,317 254,317 255,317 256,317 257,317 258,317 448,317 449,317 134,318 135,318 136,318 137,318 138,318 139,318 140,318 141,318 248,318 249,318 250,318 251,318 252,318 253,318 254,318 255,318 256,318 257,318 258,318 447,318 448,318 449,318 450,318 133,319 134,319 135,319 136,319 137,319 138,319 139,319 140,319 141,319 142,319 143,319 248,319 249,319 250,319 251,319 252,319 253,319 254,319 255,319 256,319 257,319 448,319 449,319 133,320 134,320 135,320 136,320 137,320 138,320 139,320 140,320 141,320 249,320 250,320 251,320 252,320 253,320 254,320 255,320 256,320 257,320 133,321 134,321 135,321 136,321 137,321 138,321 139,321 140,321 250,321 251,321 252,321 253,321 254,321 255,321 256,321 257,321 447,321 134,322 135,322 136,322 137,322 138,322 139,322 140,322 250,322 251,322 252,322 253,322 254,322 255,322 447,322 448,322 252,323" marker-start="url(#k14)" marker-mid="url(#k14)" marker-end="url(#k14)"/></g>
</g>
<g>
<line x1="18.6" y1="52.9" x2="18.6" y2="115.6" stroke="#222" stroke-width="1.6"/>
<path d="M18.6 43.4L23.3 53.4L13.900000000000002 53.4Z" fill="#111"/>
<line x1="18.5" y1="160.5" x2="18.5" y2="222.7" stroke="#222" stroke-width="1.6"/>
<path d="M18.5 151.0L23.2 161.0L13.8 161.0Z" fill="#111"/>
<line x1="18.5" y1="265.4" x2="18.5" y2="328.2" stroke="#222" stroke-width="1.6"/>
<path d="M18.5 255.9L23.2 265.9L13.8 265.9Z" fill="#111"/>
<line x1="425" y1="52.9" x2="425" y2="114.4" stroke="#222" stroke-width="1.6"/>
<path d="M425 43.4L429.7 53.4L420.3 53.4Z" fill="#111"/>
<line x1="425" y1="160.5" x2="425" y2="221.5" stroke="#222" stroke-width="1.6"/>
<path d="M425 151L429.7 161L420.3 161Z" fill="#111"/>
<line x1="425" y1="267.0" x2="425" y2="328" stroke="#222" stroke-width="1.6"/>
<path d="M425 257.5L429.7 267.5L420.3 267.5Z" fill="#111"/>
<line x1="35" y1="340.3" x2="375.0" y2="340.3" stroke="#222" stroke-width="1.6"/>
<path d="M384.5 340.3L374.5 335.90000000000003L374.5 344.7Z" fill="#111"/>
<line x1="438.7" y1="126.8" x2="498.5" y2="126.8" stroke="#222" stroke-width="1.6"/>
<path d="M507.5 126.8L498.0 122.39999999999999L498.0 131.2Z" fill="#111"/>
<line x1="440.4" y1="233.9" x2="499.8" y2="233.9" stroke="#222" stroke-width="1.6"/>
<path d="M509.3 233.9L499.3 229.5L499.3 238.3Z" fill="#111"/>
<line x1="440.4" y1="340.6" x2="499.8" y2="340.6" stroke="#222" stroke-width="1.6"/>
<path d="M509.3 340.6L499.3 336.20000000000005L499.3 345.0Z" fill="#111"/>
</g>
<g stroke="#111" stroke-width="0.3" opacity="0.995">
<text x="28.15" y="19.20" font-size="25" font-weight="bold" fill="#111">A</text>
<text x="122.04" y="18.80" font-size="25" font-weight="bold" fill="#111">B</text>
<text x="216.86" y="19.20" font-size="25" font-weight="bold" fill="#111">C</text>
<text x="311.61" y="19.20" font-size="25" font-weight="bold" fill="#111">D</text>
<text x="50.29" y="32.80" font-size="15" fill="#111">blood</text>
<text x="140.29" y="32.50" font-size="15" fill="#111">spleen</text>
<text x="232.03" y="32.60" font-size="15" fill="#111">thymus</text>
<text x="400.25" y="32.50" font-size="15" fill="#111">BM</text>
<text x="30.30" y="56.90" font-size="11" fill="#111">5.7%</text>
<text x="88.65" y="57.00" font-size="11" fill="#111">1.0%</text>
<text x="82.79" y="111.90" font-size="11" fill="#111">13.7%</text>
<text x="127.79" y="56.90" font-size="11" fill="#111">18.8%</text>
<text x="182.89" y="56.90" font-size="11" fill="#111">2.5%</text>
<text x="183.63" y="111.90" font-size="11" fill="#111">8.2%</text>
<text x="216.69" y="56.90" font-size="11" fill="#111">12.6%</text>
<text x="270.96" y="56.90" font-size="11" fill="#111">78.0%</text>
<text x="276.34" y="111.90" font-size="11" fill="#111">6.9%</text>
<text x="311.86" y="56.90" font-size="11" fill="#111">3.7%</text>
<text x="368.51" y="56.90" font-size="11" fill="#111">3.7%</text>
<text x="362.28" y="111.90" font-size="11" fill="#111">25.7%</text>
<text x="437.52" y="56.90" font-size="11" fill="#111">66.1%</text>
<text x="492.34" y="111.70" font-size="11" fill="#111">4.1%</text>
<text x="88.35" y="165.10" font-size="11" fill="#111">5.8%</text>
<text x="89.23" y="219.30" font-size="11" fill="#111">8.9%</text>
<text x="183.60" y="165.10" font-size="11" fill="#111">9.7%</text>
<text x="183.70" y="219.30" font-size="11" fill="#111">1.1%</text>
<text x="270.74" y="165.10" font-size="11" fill="#111">39.9%</text>
<text x="271.43" y="219.30" font-size="11" fill="#111">45.0%</text>
<text x="362.78" y="165.10" font-size="11" fill="#111">28.7%</text>
<text x="368.75" y="219.30" font-size="11" fill="#111">0.7%</text>
<text x="490.10" y="164.80" font-size="11" fill="#111">5.9%</text>
<text x="490.45" y="219.00" font-size="11" fill="#111">0.1%</text>
<text x="90.15" y="272.20" font-size="11" fill="#111">1.9%</text>
<text x="83.54" y="327.10" font-size="11" fill="#111">10.5%</text>
<text x="183.99" y="272.20" font-size="11" fill="#111">4.5%</text>
<text x="183.88" y="327.10" font-size="11" fill="#111">8.2%</text>
<text x="277.05" y="272.20" font-size="11" fill="#111">0.4%</text>
<text x="271.29" y="327.10" font-size="11" fill="#111">91.1%</text>
<text x="362.28" y="272.20" font-size="11" fill="#111">22.3%</text>
<text x="369.00" y="327.10" font-size="11" fill="#111">5.2%</text>
<text x="493.40" y="272.10" font-size="11" fill="#111">5.0%</text>
<text x="493.75" y="326.00" font-size="11" fill="#111">0.7%</text>
<text x="196.45" y="356.60" font-size="13.3" fill="#111">CD4</text>
<text x="460.25" y="142.70" font-size="13.3" fill="#111">CD3</text>
<text x="457.86" y="249.40" font-size="13.3" fill="#111">CD14</text>
<text x="457.86" y="356.40" font-size="13.3" fill="#111">CD14</text>
<text transform="translate(12.17 96.95) rotate(-90)" font-size="13.3" fill="#111">CD8</text>
<text transform="translate(12.67 212.98) rotate(-90)" font-size="13.3" fill="#111">CXCR4</text>
<text transform="translate(12.67 314.12) rotate(-90)" font-size="13.3" fill="#111">CCR5</text>
<text transform="translate(419.67 98.17) rotate(-90)" font-size="13.3" fill="#111">CD19</text>
<text transform="translate(419.67 212.43) rotate(-90)" font-size="13.3" fill="#111">CXCR4</text>
<text transform="translate(419.67 314.67) rotate(-90)" font-size="13.3" fill="#111">CCR5</text>
</g>
</g>
</svg>
</body></html>
